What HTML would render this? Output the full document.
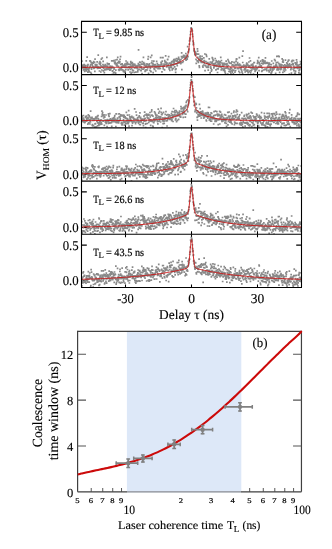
<!DOCTYPE html>
<html><head><meta charset="utf-8"><title>Figure</title>
<style>html,body{margin:0;padding:0;background:#fff;width:332px;height:549px;overflow:hidden;font-family:"Liberation Serif",serif}</style>
</head><body>
<svg width="332" height="549" viewBox="0 0 332 549" style="position:absolute;left:0;top:0;will-change:transform" text-rendering="geometricPrecision">
<rect width="332" height="549" fill="#fff"/>
<clipPath id="c0"><rect x="81.5" y="21.4" width="220.0" height="53.23"/></clipPath>
<path d="M81.5 32.2h5.3M301.5 32.2h-5.3" stroke="#000" stroke-width="1.05"/>
<path d="M81.5 67.8h5.3M301.5 67.8h-5.3" stroke="#000" stroke-width="1.05"/>
<path d="M125.5 21.4v3M125.5 74.63v-3" stroke="#000" stroke-width="1.05"/>
<path d="M191.5 21.4v3M191.5 74.63v-3" stroke="#000" stroke-width="1.05"/>
<path d="M257.5 21.4v3M257.5 74.63v-3" stroke="#000" stroke-width="1.05"/>
<path clip-path="url(#c0)" d="M80.8 67.8h1.7M81.0 61.1h1.7M81.2 66.5h1.7M81.5 66.9h1.7M81.7 65.5h1.7M81.9 66.2h1.7M82.2 65.1h1.7M82.4 65.1h1.7M82.6 70.0h1.7M82.8 66.3h1.7M83.1 69.2h1.7M83.3 64.6h1.7M83.5 64.8h1.7M83.8 71.3h1.7M84.0 69.4h1.7M84.2 65.7h1.7M84.5 66.4h1.7M84.7 69.7h1.7M84.9 65.5h1.7M85.2 68.8h1.7M85.4 60.8h1.7M85.6 70.8h1.7M85.9 68.8h1.7M86.1 69.2h1.7M86.3 57.2h1.7M86.6 66.8h1.7M86.8 65.3h1.7M87.0 72.1h1.7M87.2 64.7h1.7M87.5 69.1h1.7M87.7 70.3h1.7M87.9 68.8h1.7M88.2 71.0h1.7M88.4 68.4h1.7M88.6 71.8h1.7M88.9 67.6h1.7M89.1 60.9h1.7M89.3 66.4h1.7M89.6 61.2h1.7M89.8 64.7h1.7M90.0 72.5h1.7M90.3 62.3h1.7M90.5 73.9h1.7M90.7 69.1h1.7M91.0 67.5h1.7M91.2 63.2h1.7M91.4 64.9h1.7M91.6 67.4h1.7M91.9 66.4h1.7M92.1 62.8h1.7M92.3 63.2h1.7M92.6 66.8h1.7M92.8 61.7h1.7M93.0 68.5h1.7M93.3 67.4h1.7M93.5 67.9h1.7M93.7 62.4h1.7M94.0 71.4h1.7M94.2 59.2h1.7M94.4 64.7h1.7M94.7 65.9h1.7M94.9 66.8h1.7M95.1 66.8h1.7M95.4 67.4h1.7M95.6 66.3h1.7M95.8 65.3h1.7M96.0 64.7h1.7M96.3 61.9h1.7M96.5 62.0h1.7M96.7 68.4h1.7M97.0 66.7h1.7M97.2 67.5h1.7M97.4 55.2h1.7M97.7 68.2h1.7M97.9 67.7h1.7M98.1 67.1h1.7M98.4 63.3h1.7M98.6 71.0h1.7M98.8 63.8h1.7M99.1 61.6h1.7M99.3 68.1h1.7M99.5 64.7h1.7M99.8 63.0h1.7M100.0 72.0h1.7M100.2 66.2h1.7M100.5 59.2h1.7M100.7 66.4h1.7M100.9 70.0h1.7M101.1 75.2h1.7M101.4 58.0h1.7M101.6 67.5h1.7M101.8 66.5h1.7M102.1 64.5h1.7M102.3 61.3h1.7M102.5 70.9h1.7M102.8 66.4h1.7M103.0 68.3h1.7M103.2 65.7h1.7M103.5 72.7h1.7M103.7 66.1h1.7M103.9 70.0h1.7M104.2 69.7h1.7M104.4 64.7h1.7M104.6 66.0h1.7M104.8 65.2h1.7M105.1 66.2h1.7M105.3 68.7h1.7M105.5 68.7h1.7M105.8 69.6h1.7M106.0 57.4h1.7M106.2 66.0h1.7M106.5 63.4h1.7M106.7 68.4h1.7M106.9 66.2h1.7M107.2 64.2h1.7M107.4 69.2h1.7M107.6 68.3h1.7M107.9 64.1h1.7M108.1 68.7h1.7M108.3 63.8h1.7M108.6 69.0h1.7M108.8 70.1h1.7M109.0 68.0h1.7M109.2 66.2h1.7M109.5 69.0h1.7M109.7 69.8h1.7M109.9 68.0h1.7M110.2 66.5h1.7M110.4 68.5h1.7M110.6 67.9h1.7M110.9 60.8h1.7M111.1 66.4h1.7M111.3 74.7h1.7M111.6 71.1h1.7M111.8 67.0h1.7M112.0 70.8h1.7M112.3 67.7h1.7M112.5 60.8h1.7M112.7 72.8h1.7M113.0 60.5h1.7M113.2 69.2h1.7M113.4 68.2h1.7M113.7 62.7h1.7M113.9 72.3h1.7M114.1 63.7h1.7M114.3 62.2h1.7M114.6 60.0h1.7M114.8 73.1h1.7M115.0 70.2h1.7M115.3 64.4h1.7M115.5 64.9h1.7M115.7 63.6h1.7M116.0 65.8h1.7M116.2 59.6h1.7M116.4 65.2h1.7M116.7 62.5h1.7M116.9 57.4h1.7M117.1 62.8h1.7M117.4 62.6h1.7M117.6 66.3h1.7M117.8 69.6h1.7M118.0 61.3h1.7M118.3 70.3h1.7M118.5 62.8h1.7M118.7 69.1h1.7M119.0 61.8h1.7M119.2 59.3h1.7M119.4 68.8h1.7M119.7 56.6h1.7M119.9 64.3h1.7M120.1 69.8h1.7M120.4 64.3h1.7M120.6 68.1h1.7M120.8 66.7h1.7M121.1 64.0h1.7M121.3 63.9h1.7M121.5 66.7h1.7M121.8 69.8h1.7M122.0 67.2h1.7M122.2 65.7h1.7M122.5 71.3h1.7M122.7 75.1h1.7M122.9 65.5h1.7M123.1 70.6h1.7M123.4 65.1h1.7M123.6 72.3h1.7M123.8 67.1h1.7M124.1 64.1h1.7M124.3 71.7h1.7M124.5 67.5h1.7M124.8 65.7h1.7M125.0 69.6h1.7M125.2 61.0h1.7M125.5 63.4h1.7M125.7 67.4h1.7M125.9 64.2h1.7M126.2 64.7h1.7M126.4 63.6h1.7M126.6 62.4h1.7M126.8 67.6h1.7M127.1 64.3h1.7M127.3 69.8h1.7M127.5 64.1h1.7M127.8 67.2h1.7M128.0 66.8h1.7M128.2 66.9h1.7M128.5 67.7h1.7M128.7 64.4h1.7M128.9 66.8h1.7M129.2 72.0h1.7M129.4 69.3h1.7M129.6 64.8h1.7M129.9 61.6h1.7M130.1 63.0h1.7M130.3 73.3h1.7M130.6 66.1h1.7M130.8 68.6h1.7M131.0 63.6h1.7M131.2 72.4h1.7M131.5 62.6h1.7M131.7 70.2h1.7M131.9 65.0h1.7M132.2 66.4h1.7M132.4 64.5h1.7M132.6 70.7h1.7M132.9 64.1h1.7M133.1 65.1h1.7M133.3 72.5h1.7M133.6 67.5h1.7M133.8 67.9h1.7M134.0 64.3h1.7M134.3 65.5h1.7M134.5 67.4h1.7M134.7 76.5h1.7M135.0 72.2h1.7M135.2 66.1h1.7M135.4 67.7h1.7M135.7 67.9h1.7M135.9 66.9h1.7M136.1 66.7h1.7M136.3 65.7h1.7M136.6 68.7h1.7M136.8 71.8h1.7M137.0 70.7h1.7M137.3 65.9h1.7M137.5 63.7h1.7M137.7 49.8h1.7M138.0 65.1h1.7M138.2 69.4h1.7M138.4 65.9h1.7M138.7 65.6h1.7M138.9 62.2h1.7M139.1 64.9h1.7M139.4 67.3h1.7M139.6 62.6h1.7M139.8 70.4h1.7M140.1 67.5h1.7M140.3 70.6h1.7M140.5 66.5h1.7M140.7 68.5h1.7M141.0 64.1h1.7M141.2 73.5h1.7M141.4 61.7h1.7M141.7 69.2h1.7M141.9 69.2h1.7M142.1 64.2h1.7M142.4 69.1h1.7M142.6 57.3h1.7M142.8 62.7h1.7M143.1 64.2h1.7M143.3 67.8h1.7M143.5 65.4h1.7M143.8 63.5h1.7M144.0 64.8h1.7M144.2 71.3h1.7M144.5 70.0h1.7M144.7 67.1h1.7M144.9 70.6h1.7M145.1 66.9h1.7M145.4 65.6h1.7M145.6 69.9h1.7M145.8 66.1h1.7M146.1 63.9h1.7M146.3 67.1h1.7M146.5 70.0h1.7M146.8 67.9h1.7M147.0 64.6h1.7M147.2 59.2h1.7M147.5 56.7h1.7M147.7 73.3h1.7M147.9 66.1h1.7M148.2 65.2h1.7M148.4 66.4h1.7M148.6 63.9h1.7M148.8 66.6h1.7M149.1 70.3h1.7M149.3 66.2h1.7M149.5 68.2h1.7M149.8 57.4h1.7M150.0 71.4h1.7M150.2 71.7h1.7M150.5 66.5h1.7M150.7 62.9h1.7M150.9 55.3h1.7M151.2 61.0h1.7M151.4 65.4h1.7M151.6 66.6h1.7M151.9 66.5h1.7M152.1 63.3h1.7M152.3 72.7h1.7M152.6 64.9h1.7M152.8 65.2h1.7M153.0 61.1h1.7M153.2 68.5h1.7M153.5 69.3h1.7M153.7 65.9h1.7M153.9 69.0h1.7M154.2 67.0h1.7M154.4 64.6h1.7M154.6 65.0h1.7M154.9 71.0h1.7M155.1 67.1h1.7M155.3 66.8h1.7M155.6 66.6h1.7M155.8 61.4h1.7M156.0 67.6h1.7M156.3 66.0h1.7M156.5 63.6h1.7M156.7 66.5h1.7M157.0 65.6h1.7M157.2 68.7h1.7M157.4 64.9h1.7M157.7 66.1h1.7M157.9 65.3h1.7M158.1 67.2h1.7M158.3 68.3h1.7M158.6 68.6h1.7M158.8 66.2h1.7M159.0 65.0h1.7M159.3 68.4h1.7M159.5 68.5h1.7M159.7 57.6h1.7M160.0 65.4h1.7M160.2 62.4h1.7M160.4 63.9h1.7M160.7 63.2h1.7M160.9 64.2h1.7M161.1 71.9h1.7M161.4 61.2h1.7M161.6 57.7h1.7M161.8 66.0h1.7M162.1 57.7h1.7M162.3 67.6h1.7M162.5 68.8h1.7M162.7 65.7h1.7M163.0 65.5h1.7M163.2 64.0h1.7M163.4 66.2h1.7M163.7 69.8h1.7M163.9 60.5h1.7M164.1 61.8h1.7M164.4 64.4h1.7M164.6 64.4h1.7M164.8 55.8h1.7M165.1 62.1h1.7M165.3 64.3h1.7M165.5 63.1h1.7M165.8 66.8h1.7M166.0 66.9h1.7M166.2 63.0h1.7M166.5 65.8h1.7M166.7 59.7h1.7M166.9 59.3h1.7M167.1 65.1h1.7M167.4 64.4h1.7M167.6 65.4h1.7M167.8 56.6h1.7M168.1 67.4h1.7M168.3 68.8h1.7M168.5 63.2h1.7M168.8 63.1h1.7M169.0 70.4h1.7M169.2 67.3h1.7M169.5 66.8h1.7M169.7 64.5h1.7M169.9 66.1h1.7M170.2 63.1h1.7M170.4 67.6h1.7M170.6 65.6h1.7M170.8 61.7h1.7M171.1 64.7h1.7M171.3 70.0h1.7M171.5 64.3h1.7M171.8 68.6h1.7M172.0 61.8h1.7M172.2 61.2h1.7M172.5 68.4h1.7M172.7 65.3h1.7M172.9 59.6h1.7M173.2 63.1h1.7M173.4 61.3h1.7M173.6 60.3h1.7M173.9 66.8h1.7M174.1 59.4h1.7M174.3 63.8h1.7M174.6 69.7h1.7M174.8 72.4h1.7M175.0 60.5h1.7M175.2 68.9h1.7M175.5 61.5h1.7M175.7 58.5h1.7M175.9 63.8h1.7M176.2 60.3h1.7M176.4 65.7h1.7M176.6 61.2h1.7M176.9 63.2h1.7M177.1 61.9h1.7M177.3 59.1h1.7M177.6 62.5h1.7M177.8 57.4h1.7M178.0 59.0h1.7M178.3 61.8h1.7M178.5 62.8h1.7M178.7 59.6h1.7M179.0 60.2h1.7M179.2 61.0h1.7M179.4 62.5h1.7M179.7 62.5h1.7M179.9 63.7h1.7M180.1 59.5h1.7M180.3 62.7h1.7M180.6 56.6h1.7M180.8 52.8h1.7M181.0 69.6h1.7M181.3 57.9h1.7M181.5 57.2h1.7M181.7 62.3h1.7M182.0 57.0h1.7M182.2 56.7h1.7M182.4 61.3h1.7M182.7 55.3h1.7M182.9 56.7h1.7M183.1 57.4h1.7M183.4 56.7h1.7M183.6 55.6h1.7M183.8 56.0h1.7M184.1 57.8h1.7M184.3 56.5h1.7M184.5 59.2h1.7M184.7 57.7h1.7M185.0 53.5h1.7M185.2 60.2h1.7M185.4 56.5h1.7M185.7 59.3h1.7M185.9 55.4h1.7M186.1 58.1h1.7M186.4 59.2h1.7M186.6 55.6h1.7M186.8 46.7h1.7M187.1 56.6h1.7M187.3 51.9h1.7M187.5 52.4h1.7M187.8 51.4h1.7M188.0 49.8h1.7M188.2 49.2h1.7M188.5 44.1h1.7M188.7 40.8h1.7M188.9 40.4h1.7M189.1 38.1h1.7M189.4 38.7h1.7M189.6 34.5h1.7M189.8 31.7h1.7M190.1 28.7h1.7M190.3 27.9h1.7M190.5 28.5h1.7M190.8 28.5h1.7M191.0 29.4h1.7M191.2 30.2h1.7M191.5 31.0h1.7M191.7 34.1h1.7M191.9 36.3h1.7M192.2 41.2h1.7M192.4 44.6h1.7M192.6 42.8h1.7M192.8 44.3h1.7M193.1 50.6h1.7M193.3 48.8h1.7M193.5 51.3h1.7M193.8 51.4h1.7M194.0 54.7h1.7M194.2 53.1h1.7M194.5 51.9h1.7M194.7 53.0h1.7M194.9 55.2h1.7M195.2 59.4h1.7M195.4 63.3h1.7M195.6 53.5h1.7M195.9 54.2h1.7M196.1 54.2h1.7M196.3 60.8h1.7M196.6 48.9h1.7M196.8 51.2h1.7M197.0 57.4h1.7M197.2 61.1h1.7M197.5 62.5h1.7M197.7 54.1h1.7M197.9 59.0h1.7M198.2 60.3h1.7M198.4 65.9h1.7M198.6 67.3h1.7M198.9 59.5h1.7M199.1 56.9h1.7M199.3 56.0h1.7M199.6 58.6h1.7M199.8 61.4h1.7M200.0 60.2h1.7M200.3 60.5h1.7M200.5 62.3h1.7M200.7 58.8h1.7M201.0 59.5h1.7M201.2 56.3h1.7M201.4 58.8h1.7M201.7 62.4h1.7M201.9 66.1h1.7M202.1 67.1h1.7M202.3 61.8h1.7M202.6 61.3h1.7M202.8 65.0h1.7M203.0 57.9h1.7M203.3 62.4h1.7M203.5 60.7h1.7M203.7 63.1h1.7M204.0 54.0h1.7M204.2 70.6h1.7M204.4 65.3h1.7M204.7 66.0h1.7M204.9 65.5h1.7M205.1 61.5h1.7M205.4 54.6h1.7M205.6 67.1h1.7M205.8 56.3h1.7M206.1 63.0h1.7M206.3 63.5h1.7M206.5 67.3h1.7M206.7 63.4h1.7M207.0 62.6h1.7M207.2 66.0h1.7M207.4 70.2h1.7M207.7 67.4h1.7M207.9 65.1h1.7M208.1 64.4h1.7M208.4 58.9h1.7M208.6 63.6h1.7M208.8 64.5h1.7M209.1 64.5h1.7M209.3 72.8h1.7M209.5 62.0h1.7M209.8 66.5h1.7M210.0 68.1h1.7M210.2 68.5h1.7M210.5 71.2h1.7M210.7 63.3h1.7M210.9 69.9h1.7M211.1 62.5h1.7M211.4 57.7h1.7M211.6 61.8h1.7M211.8 58.4h1.7M212.1 59.8h1.7M212.3 63.9h1.7M212.5 64.8h1.7M212.8 60.3h1.7M213.0 67.9h1.7M213.2 66.9h1.7M213.5 64.1h1.7M213.7 66.0h1.7M213.9 63.6h1.7M214.2 65.8h1.7M214.4 58.5h1.7M214.6 63.8h1.7M214.8 63.0h1.7M215.1 69.8h1.7M215.3 60.5h1.7M215.5 62.0h1.7M215.8 66.1h1.7M216.0 65.2h1.7M216.2 66.3h1.7M216.5 68.9h1.7M216.7 72.5h1.7M216.9 61.9h1.7M217.2 63.7h1.7M217.4 68.8h1.7M217.6 61.1h1.7M217.9 64.7h1.7M218.1 66.9h1.7M218.3 63.4h1.7M218.6 65.8h1.7M218.8 61.7h1.7M219.0 65.7h1.7M219.2 64.2h1.7M219.5 62.1h1.7M219.7 66.5h1.7M219.9 57.4h1.7M220.2 67.3h1.7M220.4 69.9h1.7M220.6 60.5h1.7M220.9 63.0h1.7M221.1 68.3h1.7M221.3 68.5h1.7M221.6 64.9h1.7M221.8 66.1h1.7M222.0 63.4h1.7M222.3 69.6h1.7M222.5 66.2h1.7M222.7 70.4h1.7M223.0 65.1h1.7M223.2 68.2h1.7M223.4 68.8h1.7M223.7 63.3h1.7M223.9 70.6h1.7M224.1 71.9h1.7M224.3 64.0h1.7M224.6 73.5h1.7M224.8 64.5h1.7M225.0 68.1h1.7M225.3 61.1h1.7M225.5 64.8h1.7M225.7 64.1h1.7M226.0 64.7h1.7M226.2 63.7h1.7M226.4 66.6h1.7M226.7 68.0h1.7M226.9 74.0h1.7M227.1 59.6h1.7M227.4 68.6h1.7M227.6 65.5h1.7M227.8 61.4h1.7M228.1 71.5h1.7M228.3 62.7h1.7M228.5 69.1h1.7M228.7 69.4h1.7M229.0 71.3h1.7M229.2 63.2h1.7M229.4 71.8h1.7M229.7 69.2h1.7M229.9 67.8h1.7M230.1 73.7h1.7M230.4 63.3h1.7M230.6 70.8h1.7M230.8 68.5h1.7M231.1 61.9h1.7M231.3 65.4h1.7M231.5 72.1h1.7M231.8 70.1h1.7M232.0 64.8h1.7M232.2 70.3h1.7M232.5 73.9h1.7M232.7 66.0h1.7M232.9 70.1h1.7M233.1 62.3h1.7M233.4 65.6h1.7M233.6 62.6h1.7M233.8 68.2h1.7M234.1 72.1h1.7M234.3 68.1h1.7M234.5 64.6h1.7M234.8 70.5h1.7M235.0 65.3h1.7M235.2 61.4h1.7M235.5 59.3h1.7M235.7 58.9h1.7M235.9 59.2h1.7M236.2 64.9h1.7M236.4 68.4h1.7M236.6 64.4h1.7M236.8 62.6h1.7M237.1 68.3h1.7M237.3 68.6h1.7M237.5 65.2h1.7M237.8 64.9h1.7M238.0 71.4h1.7M238.2 65.3h1.7M238.5 57.6h1.7M238.7 64.0h1.7M238.9 72.7h1.7M239.2 68.5h1.7M239.4 67.3h1.7M239.6 65.1h1.7M239.9 69.0h1.7M240.1 67.6h1.7M240.3 67.3h1.7M240.6 69.6h1.7M240.8 70.5h1.7M241.0 66.3h1.7M241.2 72.1h1.7M241.5 56.2h1.7M241.7 73.6h1.7M241.9 62.5h1.7M242.2 51.1h1.7M242.4 66.1h1.7M242.6 66.8h1.7M242.9 65.1h1.7M243.1 66.2h1.7M243.3 70.0h1.7M243.6 66.2h1.7M243.8 68.9h1.7M244.0 65.7h1.7M244.3 72.0h1.7M244.5 65.5h1.7M244.7 68.8h1.7M245.0 67.0h1.7M245.2 70.6h1.7M245.4 67.0h1.7M245.7 64.2h1.7M245.9 63.1h1.7M246.1 65.4h1.7M246.3 71.2h1.7M246.6 64.2h1.7M246.8 70.2h1.7M247.0 70.3h1.7M247.3 72.7h1.7M247.5 65.4h1.7M247.7 67.2h1.7M248.0 62.0h1.7M248.2 65.9h1.7M248.4 71.7h1.7M248.7 58.0h1.7M248.9 66.1h1.7M249.1 67.4h1.7M249.4 70.6h1.7M249.6 60.8h1.7M249.8 72.9h1.7M250.1 67.8h1.7M250.3 70.8h1.7M250.5 64.7h1.7M250.7 65.1h1.7M251.0 70.0h1.7M251.2 76.5h1.7M251.4 67.2h1.7M251.7 68.3h1.7M251.9 64.1h1.7M252.1 65.4h1.7M252.4 68.1h1.7M252.6 74.0h1.7M252.8 66.5h1.7M253.1 62.5h1.7M253.3 69.1h1.7M253.5 62.7h1.7M253.8 69.5h1.7M254.0 68.4h1.7M254.2 71.4h1.7M254.5 68.8h1.7M254.7 70.3h1.7M254.9 66.4h1.7M255.1 66.0h1.7M255.4 68.8h1.7M255.6 69.7h1.7M255.8 69.4h1.7M256.1 67.9h1.7M256.3 68.4h1.7M256.5 63.4h1.7M256.8 60.6h1.7M257.0 62.1h1.7M257.2 62.4h1.7M257.5 67.4h1.7M257.7 66.7h1.7M257.9 57.6h1.7M258.2 70.7h1.7M258.4 62.7h1.7M258.6 63.8h1.7M258.8 66.5h1.7M259.1 66.8h1.7M259.3 65.4h1.7M259.5 67.2h1.7M259.8 61.2h1.7M260.0 66.2h1.7M260.2 66.4h1.7M260.5 65.8h1.7M260.7 63.3h1.7M260.9 71.4h1.7M261.2 67.9h1.7M261.4 70.7h1.7M261.6 59.8h1.7M261.9 61.7h1.7M262.1 63.8h1.7M262.3 61.5h1.7M262.6 60.4h1.7M262.8 70.0h1.7M263.0 63.4h1.7M263.2 63.0h1.7M263.5 61.8h1.7M263.7 69.4h1.7M263.9 69.6h1.7M264.2 61.0h1.7M264.4 69.0h1.7M264.6 57.9h1.7M264.9 63.3h1.7M265.1 69.3h1.7M265.3 62.6h1.7M265.6 69.3h1.7M265.8 68.7h1.7M266.0 70.7h1.7M266.3 63.1h1.7M266.5 62.6h1.7M266.7 67.2h1.7M267.0 63.1h1.7M267.2 66.1h1.7M267.4 67.5h1.7M267.6 63.8h1.7M267.9 70.3h1.7M268.1 65.0h1.7M268.3 71.9h1.7M268.6 63.0h1.7M268.8 64.6h1.7M269.0 66.9h1.7M269.3 75.1h1.7M269.5 68.6h1.7M269.7 70.4h1.7M270.0 66.8h1.7M270.2 73.2h1.7M270.4 64.7h1.7M270.7 72.6h1.7M270.9 61.0h1.7M271.1 71.3h1.7M271.4 68.8h1.7M271.6 68.1h1.7M271.8 67.9h1.7M272.0 70.1h1.7M272.3 68.6h1.7M272.5 63.4h1.7M272.7 66.9h1.7M273.0 66.4h1.7M273.2 68.9h1.7M273.4 67.5h1.7M273.7 59.7h1.7M273.9 67.3h1.7M274.1 67.3h1.7M274.4 60.7h1.7M274.6 66.2h1.7M274.8 73.4h1.7M275.1 64.6h1.7M275.3 66.3h1.7M275.5 62.6h1.7M275.8 65.4h1.7M276.0 56.4h1.7M276.2 69.8h1.7M276.4 68.9h1.7M276.7 67.1h1.7M276.9 62.3h1.7M277.1 68.6h1.7M277.4 70.0h1.7M277.6 56.1h1.7M277.8 69.1h1.7M278.1 63.6h1.7M278.3 56.7h1.7M278.5 65.6h1.7M278.8 72.3h1.7M279.0 65.0h1.7M279.2 66.2h1.7M279.5 68.2h1.7M279.7 69.6h1.7M279.9 64.4h1.7M280.2 64.9h1.7M280.4 69.0h1.7M280.6 66.6h1.7M280.8 67.1h1.7M281.1 67.4h1.7M281.3 58.9h1.7M281.5 65.0h1.7M281.8 61.9h1.7M282.0 72.4h1.7M282.2 60.2h1.7M282.5 62.2h1.7M282.7 70.0h1.7M282.9 65.9h1.7M283.2 68.2h1.7M283.4 67.1h1.7M283.6 71.3h1.7M283.9 64.9h1.7M284.1 68.9h1.7M284.3 67.8h1.7M284.6 60.1h1.7M284.8 70.0h1.7M285.0 66.7h1.7M285.2 65.7h1.7M285.5 67.0h1.7M285.7 65.9h1.7M285.9 62.9h1.7M286.2 65.9h1.7M286.4 63.6h1.7M286.6 65.4h1.7M286.9 67.6h1.7M287.1 61.5h1.7M287.3 64.8h1.7M287.6 60.4h1.7M287.8 66.2h1.7M288.0 60.1h1.7M288.3 66.8h1.7M288.5 74.1h1.7M288.7 63.8h1.7M289.0 65.4h1.7M289.2 65.2h1.7M289.4 66.4h1.7M289.6 65.5h1.7M289.9 69.7h1.7M290.1 66.8h1.7M290.3 68.6h1.7M290.6 73.2h1.7M290.8 61.6h1.7M291.0 64.6h1.7M291.3 60.8h1.7M291.5 64.7h1.7M291.7 60.4h1.7M292.0 63.5h1.7M292.2 69.0h1.7M292.4 64.2h1.7M292.7 60.7h1.7M292.9 66.0h1.7M293.1 70.7h1.7M293.4 67.4h1.7M293.6 68.3h1.7M293.8 73.3h1.7M294.0 67.7h1.7M294.3 62.9h1.7M294.5 73.2h1.7M294.7 71.2h1.7M295.0 64.3h1.7M295.2 67.4h1.7M295.4 64.7h1.7M295.7 59.8h1.7M295.9 63.7h1.7M296.1 62.1h1.7M296.4 66.3h1.7M296.6 67.4h1.7M296.8 68.5h1.7M297.1 65.1h1.7M297.3 66.4h1.7M297.5 67.2h1.7M297.8 65.1h1.7M298.0 72.8h1.7M298.2 70.7h1.7M298.4 66.9h1.7M298.7 69.0h1.7M298.9 69.7h1.7M299.1 64.5h1.7M299.4 73.6h1.7M299.6 61.7h1.7M299.8 66.7h1.7M300.1 63.7h1.7M300.3 64.2h1.7M300.5 74.3h1.7" stroke="#898989" stroke-width="1.7" fill="none"/>
<polyline clip-path="url(#c0)" points="81.50,67.30 82.60,67.30 83.70,67.30 84.80,67.30 85.90,67.30 87.00,67.30 88.10,67.30 89.20,67.30 90.30,67.30 91.40,67.30 92.50,67.30 93.60,67.30 94.70,67.30 95.80,67.30 96.90,67.30 98.00,67.30 99.10,67.30 100.20,67.30 101.30,67.30 102.40,67.30 103.50,67.30 104.60,67.30 105.70,67.30 106.80,67.30 107.90,67.30 109.00,67.30 110.10,67.30 111.20,67.29 112.30,67.29 113.40,67.29 114.50,67.29 115.60,67.29 116.70,67.29 117.80,67.29 118.90,67.29 120.00,67.29 121.10,67.28 122.20,67.28 123.30,67.28 124.40,67.28 125.50,67.27 126.60,67.27 127.70,67.27 128.80,67.26 129.90,67.26 131.00,67.26 132.10,67.25 133.20,67.24 134.30,67.24 135.40,67.23 136.50,67.22 137.60,67.21 138.70,67.20 139.80,67.19 140.90,67.18 142.00,67.17 143.10,67.15 144.20,67.14 145.30,67.12 146.40,67.10 147.50,67.07 148.60,67.05 149.70,67.02 150.80,66.99 151.90,66.95 153.00,66.91 154.10,66.87 155.20,66.82 156.30,66.77 157.40,66.71 158.50,66.64 159.60,66.57 160.70,66.49 161.80,66.40 162.90,66.29 164.00,66.18 165.10,66.05 166.20,65.91 167.30,65.76 168.40,65.59 169.50,65.39 170.60,65.18 171.70,64.94 172.80,64.68 173.90,64.38 175.00,64.05 176.10,63.69 177.20,63.28 178.30,62.83 179.40,62.33 180.50,61.77 181.60,61.15 182.70,60.46 183.80,59.69 184.90,58.84 186.00,57.83 186.11,57.72 186.22,57.60 186.33,57.47 186.44,57.34 186.55,57.20 186.66,57.05 186.77,56.90 186.88,56.73 186.99,56.54 187.10,56.35 187.21,56.13 187.32,55.90 187.43,55.64 187.54,55.37 187.65,55.06 187.76,54.72 187.87,54.35 187.98,53.95 188.09,53.51 188.20,53.03 188.31,52.50 188.42,51.92 188.53,51.30 188.64,50.63 188.75,49.91 188.86,49.14 188.97,48.32 189.08,47.44 189.19,46.52 189.30,45.56 189.41,44.55 189.52,43.51 189.63,42.44 189.74,41.35 189.85,40.24 189.96,39.12 190.07,38.00 190.18,36.90 190.29,35.82 190.40,34.77 190.51,33.77 190.62,32.82 190.73,31.93 190.84,31.12 190.95,30.39 191.06,29.75 191.17,29.21 191.28,28.77 191.39,28.44 191.50,28.21 191.61,28.44 191.72,28.77 191.83,29.21 191.94,29.75 192.05,30.39 192.16,31.12 192.27,31.93 192.38,32.82 192.49,33.77 192.60,34.77 192.71,35.82 192.82,36.90 192.93,38.00 193.04,39.12 193.15,40.24 193.26,41.35 193.37,42.44 193.48,43.51 193.59,44.55 193.70,45.56 193.81,46.52 193.92,47.44 194.03,48.32 194.14,49.14 194.25,49.91 194.36,50.63 194.47,51.30 194.58,51.92 194.69,52.50 194.80,53.03 194.91,53.51 195.02,53.95 195.13,54.35 195.24,54.72 195.35,55.06 195.46,55.37 195.57,55.64 195.68,55.90 195.79,56.13 195.90,56.35 196.01,56.54 196.12,56.73 196.23,56.90 196.34,57.05 196.45,57.20 196.56,57.34 196.67,57.47 196.78,57.60 196.89,57.72 197.00,57.83 197.11,57.95 197.22,58.05 197.33,58.16 197.44,58.26 197.55,58.36 197.66,58.46 197.77,58.56 197.88,58.65 197.99,58.74 198.10,58.84 199.20,59.69 200.30,60.46 201.40,61.15 202.50,61.77 203.60,62.33 204.70,62.83 205.80,63.28 206.90,63.69 208.00,64.05 209.10,64.38 210.20,64.68 211.30,64.94 212.40,65.18 213.50,65.39 214.60,65.59 215.70,65.76 216.80,65.91 217.90,66.05 219.00,66.18 220.10,66.29 221.20,66.40 222.30,66.49 223.40,66.57 224.50,66.64 225.60,66.71 226.70,66.77 227.80,66.82 228.90,66.87 230.00,66.91 231.10,66.95 232.20,66.99 233.30,67.02 234.40,67.05 235.50,67.07 236.60,67.10 237.70,67.12 238.80,67.14 239.90,67.15 241.00,67.17 242.10,67.18 243.20,67.19 244.30,67.20 245.40,67.21 246.50,67.22 247.60,67.23 248.70,67.24 249.80,67.24 250.90,67.25 252.00,67.26 253.10,67.26 254.20,67.26 255.30,67.27 256.40,67.27 257.50,67.27 258.60,67.28 259.70,67.28 260.80,67.28 261.90,67.28 263.00,67.29 264.10,67.29 265.20,67.29 266.30,67.29 267.40,67.29 268.50,67.29 269.60,67.29 270.70,67.29 271.80,67.29 272.90,67.30 274.00,67.30 275.10,67.30 276.20,67.30 277.30,67.30 278.40,67.30 279.50,67.30 280.60,67.30 281.70,67.30 282.80,67.30 283.90,67.30 285.00,67.30 286.10,67.30 287.20,67.30 288.30,67.30 289.40,67.30 290.50,67.30 291.60,67.30 292.70,67.30 293.80,67.30 294.90,67.30 296.00,67.30 297.10,67.30 298.20,67.30 299.30,67.30 300.40,67.30 301.50,67.30" stroke="#cc1414" stroke-width="0.95" fill="none" stroke-linejoin="round"/>
<text x="78.7" y="36.80" font-family="Liberation Serif, serif" stroke="#000" stroke-width="0.12" font-size="13.5" text-anchor="end" textLength="16" lengthAdjust="spacingAndGlyphs">0.5</text>
<text x="78.7" y="72.20" font-family="Liberation Serif, serif" stroke="#000" stroke-width="0.12" font-size="13.5" text-anchor="end" textLength="16" lengthAdjust="spacingAndGlyphs">0.0</text>
<text x="93.3" y="36.30" font-family="Liberation Serif, serif" font-size="11" stroke="#000" stroke-width="0.2" textLength="5.6" lengthAdjust="spacingAndGlyphs">T</text>
<text x="98.5" y="38.70" font-family="Liberation Serif, serif" font-size="8.8" stroke="#000" stroke-width="0.15">L</text>
<text x="106" y="36.30" font-family="Liberation Serif, serif" font-size="11" stroke="#000" stroke-width="0.2" textLength="38.0" lengthAdjust="spacingAndGlyphs">= 9.85 ns</text>
<clipPath id="c1"><rect x="81.5" y="74.63" width="220.0" height="53.22999999999999"/></clipPath>
<path d="M81.5 85.42999999999999h5.3M301.5 85.42999999999999h-5.3" stroke="#000" stroke-width="1.05"/>
<path d="M81.5 121.03h5.3M301.5 121.03h-5.3" stroke="#000" stroke-width="1.05"/>
<path d="M125.5 74.63v3M125.5 127.85999999999999v-3" stroke="#000" stroke-width="1.05"/>
<path d="M191.5 74.63v3M191.5 127.85999999999999v-3" stroke="#000" stroke-width="1.05"/>
<path d="M257.5 74.63v3M257.5 127.85999999999999v-3" stroke="#000" stroke-width="1.05"/>
<path clip-path="url(#c1)" d="M80.8 116.0h1.7M81.0 118.7h1.7M81.2 120.1h1.7M81.5 116.4h1.7M81.7 121.4h1.7M81.9 120.4h1.7M82.2 118.2h1.7M82.4 119.8h1.7M82.6 115.5h1.7M82.8 122.0h1.7M83.1 119.4h1.7M83.3 120.7h1.7M83.5 121.3h1.7M83.8 122.7h1.7M84.0 122.1h1.7M84.2 122.0h1.7M84.5 117.3h1.7M84.7 121.0h1.7M84.9 116.6h1.7M85.2 116.8h1.7M85.4 120.6h1.7M85.6 116.1h1.7M85.9 118.8h1.7M86.1 118.8h1.7M86.3 120.7h1.7M86.6 117.5h1.7M86.8 117.5h1.7M87.0 124.2h1.7M87.2 118.4h1.7M87.5 114.8h1.7M87.7 123.1h1.7M87.9 122.7h1.7M88.2 119.3h1.7M88.4 115.9h1.7M88.6 116.8h1.7M88.9 119.9h1.7M89.1 124.0h1.7M89.3 121.5h1.7M89.6 121.8h1.7M89.8 111.1h1.7M90.0 119.4h1.7M90.3 117.6h1.7M90.5 118.1h1.7M90.7 118.5h1.7M91.0 118.3h1.7M91.2 117.4h1.7M91.4 125.3h1.7M91.6 124.7h1.7M91.9 120.5h1.7M92.1 126.0h1.7M92.3 118.9h1.7M92.6 125.6h1.7M92.8 119.9h1.7M93.0 120.3h1.7M93.3 129.2h1.7M93.5 120.0h1.7M93.7 118.6h1.7M94.0 127.2h1.7M94.2 123.9h1.7M94.4 118.9h1.7M94.7 123.6h1.7M94.9 117.2h1.7M95.1 118.5h1.7M95.4 126.8h1.7M95.6 118.9h1.7M95.8 117.3h1.7M96.0 121.4h1.7M96.3 120.8h1.7M96.5 116.3h1.7M96.7 125.8h1.7M97.0 122.9h1.7M97.2 115.7h1.7M97.4 118.7h1.7M97.7 119.4h1.7M97.9 124.5h1.7M98.1 125.5h1.7M98.4 120.7h1.7M98.6 122.8h1.7M98.8 122.0h1.7M99.1 121.7h1.7M99.3 120.4h1.7M99.5 124.4h1.7M99.8 121.8h1.7M100.0 123.9h1.7M100.2 119.8h1.7M100.5 122.5h1.7M100.7 116.5h1.7M100.9 124.2h1.7M101.1 111.1h1.7M101.4 114.3h1.7M101.6 115.3h1.7M101.8 112.7h1.7M102.1 120.6h1.7M102.3 121.2h1.7M102.5 116.0h1.7M102.8 118.0h1.7M103.0 115.5h1.7M103.2 114.8h1.7M103.5 125.4h1.7M103.7 116.8h1.7M103.9 117.1h1.7M104.2 120.0h1.7M104.4 121.3h1.7M104.6 122.1h1.7M104.8 120.6h1.7M105.1 115.0h1.7M105.3 123.4h1.7M105.5 121.7h1.7M105.8 120.0h1.7M106.0 121.8h1.7M106.2 126.7h1.7M106.5 121.0h1.7M106.7 119.6h1.7M106.9 119.9h1.7M107.2 120.8h1.7M107.4 123.3h1.7M107.6 113.8h1.7M107.9 115.6h1.7M108.1 122.1h1.7M108.3 116.5h1.7M108.6 123.1h1.7M108.8 119.8h1.7M109.0 113.7h1.7M109.2 123.0h1.7M109.5 118.9h1.7M109.7 122.9h1.7M109.9 128.8h1.7M110.2 119.8h1.7M110.4 120.6h1.7M110.6 122.6h1.7M110.9 126.4h1.7M111.1 119.5h1.7M111.3 121.5h1.7M111.6 118.3h1.7M111.8 121.7h1.7M112.0 120.7h1.7M112.3 121.2h1.7M112.5 119.3h1.7M112.7 121.7h1.7M113.0 117.9h1.7M113.2 120.0h1.7M113.4 119.1h1.7M113.7 117.0h1.7M113.9 115.5h1.7M114.1 119.1h1.7M114.3 121.7h1.7M114.6 119.4h1.7M114.8 122.0h1.7M115.0 126.5h1.7M115.3 113.8h1.7M115.5 122.6h1.7M115.7 120.2h1.7M116.0 120.8h1.7M116.2 122.7h1.7M116.4 121.9h1.7M116.7 118.1h1.7M116.9 118.8h1.7M117.1 121.4h1.7M117.4 120.9h1.7M117.6 114.0h1.7M117.8 122.9h1.7M118.0 121.3h1.7M118.3 117.0h1.7M118.5 113.8h1.7M118.7 116.5h1.7M119.0 117.2h1.7M119.2 120.4h1.7M119.4 118.8h1.7M119.7 116.1h1.7M119.9 116.0h1.7M120.1 114.9h1.7M120.4 123.4h1.7M120.6 115.6h1.7M120.8 122.3h1.7M121.1 124.8h1.7M121.3 123.0h1.7M121.5 124.7h1.7M121.8 123.1h1.7M122.0 116.0h1.7M122.2 115.1h1.7M122.5 120.6h1.7M122.7 119.5h1.7M122.9 117.2h1.7M123.1 121.9h1.7M123.4 115.3h1.7M123.6 125.2h1.7M123.8 122.5h1.7M124.1 117.7h1.7M124.3 116.9h1.7M124.5 121.8h1.7M124.8 123.8h1.7M125.0 118.3h1.7M125.2 118.1h1.7M125.5 112.4h1.7M125.7 121.2h1.7M125.9 123.4h1.7M126.2 120.3h1.7M126.4 118.5h1.7M126.6 115.1h1.7M126.8 122.3h1.7M127.1 119.4h1.7M127.3 121.2h1.7M127.5 123.6h1.7M127.8 110.6h1.7M128.0 121.9h1.7M128.2 126.2h1.7M128.5 115.0h1.7M128.7 121.0h1.7M128.9 116.9h1.7M129.2 118.8h1.7M129.4 120.7h1.7M129.6 118.2h1.7M129.9 119.8h1.7M130.1 117.4h1.7M130.3 117.0h1.7M130.6 121.3h1.7M130.8 117.1h1.7M131.0 116.4h1.7M131.2 125.7h1.7M131.5 121.8h1.7M131.7 123.2h1.7M131.9 122.3h1.7M132.2 117.8h1.7M132.4 118.0h1.7M132.6 117.3h1.7M132.9 118.9h1.7M133.1 121.6h1.7M133.3 119.4h1.7M133.6 119.4h1.7M133.8 108.9h1.7M134.0 119.2h1.7M134.3 122.0h1.7M134.5 129.7h1.7M134.7 123.7h1.7M135.0 119.7h1.7M135.2 112.0h1.7M135.4 119.5h1.7M135.7 115.2h1.7M135.9 122.0h1.7M136.1 119.4h1.7M136.3 119.3h1.7M136.6 120.6h1.7M136.8 117.7h1.7M137.0 118.0h1.7M137.3 120.9h1.7M137.5 120.1h1.7M137.7 123.1h1.7M138.0 121.4h1.7M138.2 116.8h1.7M138.4 115.9h1.7M138.7 124.5h1.7M138.9 121.9h1.7M139.1 112.8h1.7M139.4 124.7h1.7M139.6 118.2h1.7M139.8 117.4h1.7M140.1 120.7h1.7M140.3 121.8h1.7M140.5 119.0h1.7M140.7 119.3h1.7M141.0 119.9h1.7M141.2 120.1h1.7M141.4 119.0h1.7M141.7 123.5h1.7M141.9 123.5h1.7M142.1 120.2h1.7M142.4 123.2h1.7M142.6 125.6h1.7M142.8 120.9h1.7M143.1 116.1h1.7M143.3 119.3h1.7M143.5 118.4h1.7M143.8 112.1h1.7M144.0 121.2h1.7M144.2 115.0h1.7M144.5 118.3h1.7M144.7 124.1h1.7M144.9 127.7h1.7M145.1 123.5h1.7M145.4 120.7h1.7M145.6 114.2h1.7M145.8 114.8h1.7M146.1 115.2h1.7M146.3 117.0h1.7M146.5 123.5h1.7M146.8 117.5h1.7M147.0 118.0h1.7M147.2 118.2h1.7M147.5 114.3h1.7M147.7 115.1h1.7M147.9 122.3h1.7M148.2 120.2h1.7M148.4 119.0h1.7M148.6 115.0h1.7M148.8 120.9h1.7M149.1 112.5h1.7M149.3 117.0h1.7M149.5 120.9h1.7M149.8 125.4h1.7M150.0 119.9h1.7M150.2 121.2h1.7M150.5 115.3h1.7M150.7 111.6h1.7M150.9 109.9h1.7M151.2 115.1h1.7M151.4 121.5h1.7M151.6 120.9h1.7M151.9 126.1h1.7M152.1 116.1h1.7M152.3 126.8h1.7M152.6 122.5h1.7M152.8 119.5h1.7M153.0 122.7h1.7M153.2 118.6h1.7M153.5 121.0h1.7M153.7 111.8h1.7M153.9 120.7h1.7M154.2 120.3h1.7M154.4 113.2h1.7M154.6 114.0h1.7M154.9 117.9h1.7M155.1 115.7h1.7M155.3 118.7h1.7M155.6 118.8h1.7M155.8 117.4h1.7M156.0 115.1h1.7M156.3 120.7h1.7M156.5 117.8h1.7M156.7 121.6h1.7M157.0 123.8h1.7M157.2 117.4h1.7M157.4 109.2h1.7M157.7 116.4h1.7M157.9 113.1h1.7M158.1 121.1h1.7M158.3 118.7h1.7M158.6 111.4h1.7M158.8 120.2h1.7M159.0 116.8h1.7M159.3 116.9h1.7M159.5 118.3h1.7M159.7 122.0h1.7M160.0 117.1h1.7M160.2 108.3h1.7M160.4 112.3h1.7M160.7 114.6h1.7M160.9 119.4h1.7M161.1 114.6h1.7M161.4 127.5h1.7M161.6 113.5h1.7M161.8 120.9h1.7M162.1 117.9h1.7M162.3 123.6h1.7M162.5 119.8h1.7M162.7 112.3h1.7M163.0 119.8h1.7M163.2 121.3h1.7M163.4 123.5h1.7M163.7 118.7h1.7M163.9 119.5h1.7M164.1 117.7h1.7M164.4 114.3h1.7M164.6 118.6h1.7M164.8 118.0h1.7M165.1 111.7h1.7M165.3 121.0h1.7M165.5 120.9h1.7M165.8 118.2h1.7M166.0 115.2h1.7M166.2 126.0h1.7M166.5 120.7h1.7M166.7 119.2h1.7M166.9 118.7h1.7M167.1 114.5h1.7M167.4 118.1h1.7M167.6 116.9h1.7M167.8 118.7h1.7M168.1 114.9h1.7M168.3 116.2h1.7M168.5 115.2h1.7M168.8 119.5h1.7M169.0 116.1h1.7M169.2 118.9h1.7M169.5 119.3h1.7M169.7 118.5h1.7M169.9 118.2h1.7M170.2 118.3h1.7M170.4 115.6h1.7M170.6 113.5h1.7M170.8 120.7h1.7M171.1 119.8h1.7M171.3 111.7h1.7M171.5 114.8h1.7M171.8 117.8h1.7M172.0 116.2h1.7M172.2 121.5h1.7M172.5 116.5h1.7M172.7 108.5h1.7M172.9 115.8h1.7M173.2 111.8h1.7M173.4 114.7h1.7M173.6 114.6h1.7M173.9 115.1h1.7M174.1 110.6h1.7M174.3 112.6h1.7M174.6 119.8h1.7M174.8 118.3h1.7M175.0 118.7h1.7M175.2 110.6h1.7M175.5 115.1h1.7M175.7 121.7h1.7M175.9 111.6h1.7M176.2 116.0h1.7M176.4 112.7h1.7M176.6 120.4h1.7M176.9 114.3h1.7M177.1 112.5h1.7M177.3 115.1h1.7M177.6 112.5h1.7M177.8 119.3h1.7M178.0 114.7h1.7M178.3 115.9h1.7M178.5 112.9h1.7M178.7 111.2h1.7M179.0 113.7h1.7M179.2 116.7h1.7M179.4 116.1h1.7M179.7 116.3h1.7M179.9 117.1h1.7M180.1 106.7h1.7M180.3 108.8h1.7M180.6 111.3h1.7M180.8 108.9h1.7M181.0 111.4h1.7M181.3 108.2h1.7M181.5 114.5h1.7M181.7 112.9h1.7M182.0 108.7h1.7M182.2 112.1h1.7M182.4 117.3h1.7M182.7 111.1h1.7M182.9 107.4h1.7M183.1 109.8h1.7M183.4 113.6h1.7M183.6 112.0h1.7M183.8 108.1h1.7M184.1 108.2h1.7M184.3 106.3h1.7M184.5 117.2h1.7M184.7 114.0h1.7M185.0 114.2h1.7M185.2 105.3h1.7M185.4 102.3h1.7M185.7 109.5h1.7M185.9 101.0h1.7M186.1 110.0h1.7M186.4 106.7h1.7M186.6 106.8h1.7M186.8 111.7h1.7M187.1 99.9h1.7M187.3 104.8h1.7M187.5 104.7h1.7M187.8 103.5h1.7M188.0 102.2h1.7M188.2 100.6h1.7M188.5 97.7h1.7M188.7 97.1h1.7M188.9 90.5h1.7M189.1 90.0h1.7M189.4 87.5h1.7M189.6 85.0h1.7M189.8 82.5h1.7M190.1 84.0h1.7M190.3 80.1h1.7M190.5 79.9h1.7M190.8 76.8h1.7M191.0 81.7h1.7M191.2 81.9h1.7M191.5 82.7h1.7M191.7 86.0h1.7M191.9 88.9h1.7M192.2 90.9h1.7M192.4 95.4h1.7M192.6 96.3h1.7M192.8 96.2h1.7M193.1 101.7h1.7M193.3 105.4h1.7M193.5 101.3h1.7M193.8 105.4h1.7M194.0 97.1h1.7M194.2 111.7h1.7M194.5 110.1h1.7M194.7 110.2h1.7M194.9 103.4h1.7M195.2 104.4h1.7M195.4 104.1h1.7M195.6 107.9h1.7M195.9 112.8h1.7M196.1 110.8h1.7M196.3 117.3h1.7M196.6 120.1h1.7M196.8 117.0h1.7M197.0 111.0h1.7M197.2 114.5h1.7M197.5 116.1h1.7M197.7 112.2h1.7M197.9 114.6h1.7M198.2 115.0h1.7M198.4 112.6h1.7M198.6 104.3h1.7M198.9 116.2h1.7M199.1 112.9h1.7M199.3 108.6h1.7M199.6 114.6h1.7M199.8 111.8h1.7M200.0 115.3h1.7M200.3 118.0h1.7M200.5 111.9h1.7M200.7 112.6h1.7M201.0 114.2h1.7M201.2 112.8h1.7M201.4 115.4h1.7M201.7 111.2h1.7M201.9 111.9h1.7M202.1 115.5h1.7M202.3 113.7h1.7M202.6 115.6h1.7M202.8 118.1h1.7M203.0 114.4h1.7M203.3 116.6h1.7M203.5 117.3h1.7M203.7 115.2h1.7M204.0 115.4h1.7M204.2 114.6h1.7M204.4 113.0h1.7M204.7 114.4h1.7M204.9 116.5h1.7M205.1 113.0h1.7M205.4 120.1h1.7M205.6 120.9h1.7M205.8 114.4h1.7M206.1 116.7h1.7M206.3 114.6h1.7M206.5 116.9h1.7M206.7 112.5h1.7M207.0 118.2h1.7M207.2 113.3h1.7M207.4 112.8h1.7M207.7 107.4h1.7M207.9 114.7h1.7M208.1 116.3h1.7M208.4 120.0h1.7M208.6 107.5h1.7M208.8 120.0h1.7M209.1 118.9h1.7M209.3 120.2h1.7M209.5 114.8h1.7M209.8 121.2h1.7M210.0 116.7h1.7M210.2 112.9h1.7M210.5 119.0h1.7M210.7 121.2h1.7M210.9 113.3h1.7M211.1 116.6h1.7M211.4 118.8h1.7M211.6 118.5h1.7M211.8 117.9h1.7M212.1 118.7h1.7M212.3 117.4h1.7M212.5 128.5h1.7M212.8 124.0h1.7M213.0 115.7h1.7M213.2 111.7h1.7M213.5 118.0h1.7M213.7 118.8h1.7M213.9 115.3h1.7M214.2 121.3h1.7M214.4 120.3h1.7M214.6 111.2h1.7M214.8 115.2h1.7M215.1 121.4h1.7M215.3 118.9h1.7M215.5 121.1h1.7M215.8 119.9h1.7M216.0 111.6h1.7M216.2 120.0h1.7M216.5 114.2h1.7M216.7 119.6h1.7M216.9 115.8h1.7M217.2 119.9h1.7M217.4 124.6h1.7M217.6 114.9h1.7M217.9 114.4h1.7M218.1 115.4h1.7M218.3 119.6h1.7M218.6 115.1h1.7M218.8 111.3h1.7M219.0 124.0h1.7M219.2 118.6h1.7M219.5 117.0h1.7M219.7 112.1h1.7M219.9 118.3h1.7M220.2 117.2h1.7M220.4 115.3h1.7M220.6 119.9h1.7M220.9 114.3h1.7M221.1 121.5h1.7M221.3 119.9h1.7M221.6 119.6h1.7M221.8 116.4h1.7M222.0 120.9h1.7M222.3 119.7h1.7M222.5 117.9h1.7M222.7 120.7h1.7M223.0 119.8h1.7M223.2 118.5h1.7M223.4 118.3h1.7M223.7 114.7h1.7M223.9 119.6h1.7M224.1 122.9h1.7M224.3 118.3h1.7M224.6 120.8h1.7M224.8 115.1h1.7M225.0 120.8h1.7M225.3 119.2h1.7M225.5 123.4h1.7M225.7 126.3h1.7M226.0 118.6h1.7M226.2 117.6h1.7M226.4 118.3h1.7M226.7 117.9h1.7M226.9 112.4h1.7M227.1 124.8h1.7M227.4 112.3h1.7M227.6 121.3h1.7M227.8 116.0h1.7M228.1 116.7h1.7M228.3 112.0h1.7M228.5 120.0h1.7M228.7 118.3h1.7M229.0 122.2h1.7M229.2 119.6h1.7M229.4 116.3h1.7M229.7 116.0h1.7M229.9 120.6h1.7M230.1 121.3h1.7M230.4 122.9h1.7M230.6 113.6h1.7M230.8 118.6h1.7M231.1 118.3h1.7M231.3 124.0h1.7M231.5 119.5h1.7M231.8 117.3h1.7M232.0 115.8h1.7M232.2 118.4h1.7M232.5 116.2h1.7M232.7 119.2h1.7M232.9 112.4h1.7M233.1 111.2h1.7M233.4 118.8h1.7M233.6 124.6h1.7M233.8 122.0h1.7M234.1 115.3h1.7M234.3 123.1h1.7M234.5 117.0h1.7M234.8 115.7h1.7M235.0 117.3h1.7M235.2 112.0h1.7M235.5 119.6h1.7M235.7 110.1h1.7M235.9 123.4h1.7M236.2 123.3h1.7M236.4 114.3h1.7M236.6 111.3h1.7M236.8 119.2h1.7M237.1 117.5h1.7M237.3 118.4h1.7M237.5 117.9h1.7M237.8 117.1h1.7M238.0 119.2h1.7M238.2 116.7h1.7M238.5 118.8h1.7M238.7 123.7h1.7M238.9 114.8h1.7M239.2 123.1h1.7M239.4 124.7h1.7M239.6 124.7h1.7M239.9 120.5h1.7M240.1 123.1h1.7M240.3 122.6h1.7M240.6 125.1h1.7M240.8 112.7h1.7M241.0 122.8h1.7M241.2 118.3h1.7M241.5 124.4h1.7M241.7 118.3h1.7M241.9 126.9h1.7M242.2 128.3h1.7M242.4 121.6h1.7M242.6 119.3h1.7M242.9 122.5h1.7M243.1 118.6h1.7M243.3 116.2h1.7M243.6 115.4h1.7M243.8 122.9h1.7M244.0 118.6h1.7M244.3 126.1h1.7M244.5 118.3h1.7M244.7 123.2h1.7M245.0 118.3h1.7M245.2 122.7h1.7M245.4 119.8h1.7M245.7 114.3h1.7M245.9 115.8h1.7M246.1 123.1h1.7M246.3 122.4h1.7M246.6 124.1h1.7M246.8 114.5h1.7M247.0 117.6h1.7M247.3 118.5h1.7M247.5 123.4h1.7M247.7 125.4h1.7M248.0 113.6h1.7M248.2 118.3h1.7M248.4 116.7h1.7M248.7 120.9h1.7M248.9 125.8h1.7M249.1 124.8h1.7M249.4 115.9h1.7M249.6 121.1h1.7M249.8 119.0h1.7M250.1 117.2h1.7M250.3 112.3h1.7M250.5 119.0h1.7M250.7 122.5h1.7M251.0 126.7h1.7M251.2 122.3h1.7M251.4 113.2h1.7M251.7 120.0h1.7M251.9 122.7h1.7M252.1 123.4h1.7M252.4 116.0h1.7M252.6 125.3h1.7M252.8 120.8h1.7M253.1 117.6h1.7M253.3 117.3h1.7M253.5 124.7h1.7M253.8 120.0h1.7M254.0 127.5h1.7M254.2 116.9h1.7M254.5 119.3h1.7M254.7 118.5h1.7M254.9 121.3h1.7M255.1 116.6h1.7M255.4 119.0h1.7M255.6 121.2h1.7M255.8 114.1h1.7M256.1 128.7h1.7M256.3 115.3h1.7M256.5 121.6h1.7M256.8 123.2h1.7M257.0 121.1h1.7M257.2 122.7h1.7M257.5 117.1h1.7M257.7 125.7h1.7M257.9 127.3h1.7M258.2 120.8h1.7M258.4 115.3h1.7M258.6 121.1h1.7M258.8 116.7h1.7M259.1 118.9h1.7M259.3 117.2h1.7M259.5 121.7h1.7M259.8 116.6h1.7M260.0 122.8h1.7M260.2 117.9h1.7M260.5 117.8h1.7M260.7 112.6h1.7M260.9 124.1h1.7M261.2 124.8h1.7M261.4 119.9h1.7M261.6 124.1h1.7M261.9 120.0h1.7M262.1 122.9h1.7M262.3 123.0h1.7M262.6 120.6h1.7M262.8 119.9h1.7M263.0 121.1h1.7M263.2 125.2h1.7M263.5 113.4h1.7M263.7 116.0h1.7M263.9 118.2h1.7M264.2 125.6h1.7M264.4 116.7h1.7M264.6 125.8h1.7M264.9 127.4h1.7M265.1 119.5h1.7M265.3 123.6h1.7M265.6 122.0h1.7M265.8 117.1h1.7M266.0 117.2h1.7M266.3 113.4h1.7M266.5 123.8h1.7M266.7 126.8h1.7M267.0 116.7h1.7M267.2 118.6h1.7M267.4 122.4h1.7M267.6 124.1h1.7M267.9 121.1h1.7M268.1 113.3h1.7M268.3 117.0h1.7M268.6 115.8h1.7M268.8 114.0h1.7M269.0 124.6h1.7M269.3 124.4h1.7M269.5 126.0h1.7M269.7 121.5h1.7M270.0 118.4h1.7M270.2 124.1h1.7M270.4 119.5h1.7M270.7 117.6h1.7M270.9 113.8h1.7M271.1 121.1h1.7M271.4 114.0h1.7M271.6 115.5h1.7M271.8 121.5h1.7M272.0 116.5h1.7M272.3 118.7h1.7M272.5 113.6h1.7M272.7 118.4h1.7M273.0 122.3h1.7M273.2 122.4h1.7M273.4 118.8h1.7M273.7 113.9h1.7M273.9 113.6h1.7M274.1 119.9h1.7M274.4 120.9h1.7M274.6 115.5h1.7M274.8 118.2h1.7M275.1 123.5h1.7M275.3 117.6h1.7M275.5 112.2h1.7M275.8 128.8h1.7M276.0 114.1h1.7M276.2 122.0h1.7M276.4 119.8h1.7M276.7 121.1h1.7M276.9 123.9h1.7M277.1 122.5h1.7M277.4 118.4h1.7M277.6 123.9h1.7M277.8 120.5h1.7M278.1 119.2h1.7M278.3 117.5h1.7M278.5 114.3h1.7M278.8 121.1h1.7M279.0 114.4h1.7M279.2 119.9h1.7M279.5 119.5h1.7M279.7 122.0h1.7M279.9 122.1h1.7M280.2 127.5h1.7M280.4 126.4h1.7M280.6 117.1h1.7M280.8 118.8h1.7M281.1 123.8h1.7M281.3 116.6h1.7M281.5 115.0h1.7M281.8 114.7h1.7M282.0 123.4h1.7M282.2 118.9h1.7M282.5 118.9h1.7M282.7 116.3h1.7M282.9 115.4h1.7M283.2 123.1h1.7M283.4 125.4h1.7M283.6 117.9h1.7M283.9 117.1h1.7M284.1 119.0h1.7M284.3 111.9h1.7M284.6 125.6h1.7M284.8 112.9h1.7M285.0 115.4h1.7M285.2 115.6h1.7M285.5 125.2h1.7M285.7 119.6h1.7M285.9 117.2h1.7M286.2 122.0h1.7M286.4 118.4h1.7M286.6 118.4h1.7M286.9 123.8h1.7M287.1 124.1h1.7M287.3 121.3h1.7M287.6 124.4h1.7M287.8 117.0h1.7M288.0 123.3h1.7M288.3 124.5h1.7M288.5 112.9h1.7M288.7 119.4h1.7M289.0 109.6h1.7M289.2 118.5h1.7M289.4 126.5h1.7M289.6 118.6h1.7M289.9 119.7h1.7M290.1 119.0h1.7M290.3 119.8h1.7M290.6 119.1h1.7M290.8 114.9h1.7M291.0 117.7h1.7M291.3 121.4h1.7M291.5 121.8h1.7M291.7 120.7h1.7M292.0 122.3h1.7M292.2 121.8h1.7M292.4 120.2h1.7M292.7 119.9h1.7M292.9 120.2h1.7M293.1 118.3h1.7M293.4 123.9h1.7M293.6 118.0h1.7M293.8 122.9h1.7M294.0 120.9h1.7M294.3 120.9h1.7M294.5 118.6h1.7M294.7 123.8h1.7M295.0 119.1h1.7M295.2 116.5h1.7M295.4 123.3h1.7M295.7 121.1h1.7M295.9 116.0h1.7M296.1 125.7h1.7M296.4 122.1h1.7M296.6 114.4h1.7M296.8 113.1h1.7M297.1 118.5h1.7M297.3 119.3h1.7M297.5 124.0h1.7M297.8 120.6h1.7M298.0 124.8h1.7M298.2 126.5h1.7M298.4 114.3h1.7M298.7 120.1h1.7M298.9 126.4h1.7M299.1 118.5h1.7M299.4 121.7h1.7M299.6 120.8h1.7M299.8 122.7h1.7M300.1 120.8h1.7M300.3 118.7h1.7M300.5 124.8h1.7" stroke="#898989" stroke-width="1.7" fill="none"/>
<polyline clip-path="url(#c1)" points="81.50,120.53 82.60,120.53 83.70,120.53 84.80,120.53 85.90,120.53 87.00,120.53 88.10,120.53 89.20,120.53 90.30,120.53 91.40,120.53 92.50,120.53 93.60,120.53 94.70,120.53 95.80,120.53 96.90,120.53 98.00,120.52 99.10,120.52 100.20,120.52 101.30,120.52 102.40,120.52 103.50,120.52 104.60,120.52 105.70,120.52 106.80,120.52 107.90,120.52 109.00,120.52 110.10,120.51 111.20,120.51 112.30,120.51 113.40,120.51 114.50,120.51 115.60,120.50 116.70,120.50 117.80,120.50 118.90,120.49 120.00,120.49 121.10,120.49 122.20,120.48 123.30,120.48 124.40,120.47 125.50,120.47 126.60,120.46 127.70,120.45 128.80,120.45 129.90,120.44 131.00,120.43 132.10,120.42 133.20,120.41 134.30,120.40 135.40,120.38 136.50,120.37 137.60,120.35 138.70,120.34 139.80,120.32 140.90,120.30 142.00,120.28 143.10,120.25 144.20,120.22 145.30,120.19 146.40,120.16 147.50,120.13 148.60,120.09 149.70,120.05 150.80,120.00 151.90,119.95 153.00,119.89 154.10,119.83 155.20,119.76 156.30,119.69 157.40,119.61 158.50,119.52 159.60,119.43 160.70,119.32 161.80,119.20 162.90,119.08 164.00,118.94 165.10,118.79 166.20,118.62 167.30,118.43 168.40,118.23 169.50,118.01 170.60,117.77 171.70,117.51 172.80,117.22 173.90,116.90 175.00,116.56 176.10,116.18 177.20,115.76 178.30,115.30 179.40,114.80 180.50,114.25 181.60,113.65 182.70,112.99 183.80,112.27 184.90,111.48 186.00,110.56 186.11,110.45 186.22,110.34 186.33,110.22 186.44,110.10 186.55,109.97 186.66,109.83 186.77,109.68 186.88,109.52 186.99,109.35 187.10,109.16 187.21,108.96 187.32,108.73 187.43,108.48 187.54,108.21 187.65,107.91 187.76,107.58 187.87,107.22 187.98,106.82 188.09,106.38 188.20,105.90 188.31,105.38 188.42,104.80 188.53,104.18 188.64,103.51 188.75,102.78 188.86,102.01 188.97,101.18 189.08,100.30 189.19,99.37 189.30,98.39 189.41,97.38 189.52,96.32 189.63,95.24 189.74,94.13 189.85,93.01 189.96,91.88 190.07,90.75 190.18,89.64 190.29,88.55 190.40,87.49 190.51,86.48 190.62,85.53 190.73,84.64 190.84,83.83 190.95,83.11 191.06,82.48 191.17,81.95 191.28,81.53 191.39,81.22 191.50,81.02 191.61,81.22 191.72,81.53 191.83,81.95 191.94,82.48 192.05,83.11 192.16,83.83 192.27,84.64 192.38,85.53 192.49,86.48 192.60,87.49 192.71,88.55 192.82,89.64 192.93,90.75 193.04,91.88 193.15,93.01 193.26,94.13 193.37,95.24 193.48,96.32 193.59,97.38 193.70,98.39 193.81,99.37 193.92,100.30 194.03,101.18 194.14,102.01 194.25,102.78 194.36,103.51 194.47,104.18 194.58,104.80 194.69,105.38 194.80,105.90 194.91,106.38 195.02,106.82 195.13,107.22 195.24,107.58 195.35,107.91 195.46,108.21 195.57,108.48 195.68,108.73 195.79,108.96 195.90,109.16 196.01,109.35 196.12,109.52 196.23,109.68 196.34,109.83 196.45,109.97 196.56,110.10 196.67,110.22 196.78,110.34 196.89,110.45 197.00,110.56 197.11,110.66 197.22,110.76 197.33,110.85 197.44,110.95 197.55,111.04 197.66,111.13 197.77,111.22 197.88,111.31 197.99,111.39 198.10,111.48 199.20,112.27 200.30,112.99 201.40,113.65 202.50,114.25 203.60,114.80 204.70,115.30 205.80,115.76 206.90,116.18 208.00,116.56 209.10,116.90 210.20,117.22 211.30,117.51 212.40,117.77 213.50,118.01 214.60,118.23 215.70,118.43 216.80,118.62 217.90,118.79 219.00,118.94 220.10,119.08 221.20,119.20 222.30,119.32 223.40,119.43 224.50,119.52 225.60,119.61 226.70,119.69 227.80,119.76 228.90,119.83 230.00,119.89 231.10,119.95 232.20,120.00 233.30,120.05 234.40,120.09 235.50,120.13 236.60,120.16 237.70,120.19 238.80,120.22 239.90,120.25 241.00,120.28 242.10,120.30 243.20,120.32 244.30,120.34 245.40,120.35 246.50,120.37 247.60,120.38 248.70,120.40 249.80,120.41 250.90,120.42 252.00,120.43 253.10,120.44 254.20,120.45 255.30,120.45 256.40,120.46 257.50,120.47 258.60,120.47 259.70,120.48 260.80,120.48 261.90,120.49 263.00,120.49 264.10,120.49 265.20,120.50 266.30,120.50 267.40,120.50 268.50,120.51 269.60,120.51 270.70,120.51 271.80,120.51 272.90,120.51 274.00,120.52 275.10,120.52 276.20,120.52 277.30,120.52 278.40,120.52 279.50,120.52 280.60,120.52 281.70,120.52 282.80,120.52 283.90,120.52 285.00,120.52 286.10,120.53 287.20,120.53 288.30,120.53 289.40,120.53 290.50,120.53 291.60,120.53 292.70,120.53 293.80,120.53 294.90,120.53 296.00,120.53 297.10,120.53 298.20,120.53 299.30,120.53 300.40,120.53 301.50,120.53" stroke="#cc1414" stroke-width="0.95" fill="none" stroke-linejoin="round"/>
<text x="78.7" y="90.03" font-family="Liberation Serif, serif" stroke="#000" stroke-width="0.12" font-size="13.5" text-anchor="end" textLength="16" lengthAdjust="spacingAndGlyphs">0.5</text>
<text x="78.7" y="125.43" font-family="Liberation Serif, serif" stroke="#000" stroke-width="0.12" font-size="13.5" text-anchor="end" textLength="16" lengthAdjust="spacingAndGlyphs">0.0</text>
<text x="93.3" y="94.10" font-family="Liberation Serif, serif" font-size="11" stroke="#000" stroke-width="0.2" textLength="5.6" lengthAdjust="spacingAndGlyphs">T</text>
<text x="98.5" y="96.50" font-family="Liberation Serif, serif" font-size="8.8" stroke="#000" stroke-width="0.15">L</text>
<text x="106" y="94.10" font-family="Liberation Serif, serif" font-size="11" stroke="#000" stroke-width="0.2" textLength="30.2" lengthAdjust="spacingAndGlyphs">= 12 ns</text>
<clipPath id="c2"><rect x="81.5" y="127.85999999999999" width="220.0" height="53.23000000000002"/></clipPath>
<path d="M81.5 138.66h5.3M301.5 138.66h-5.3" stroke="#000" stroke-width="1.05"/>
<path d="M81.5 174.26h5.3M301.5 174.26h-5.3" stroke="#000" stroke-width="1.05"/>
<path d="M125.5 127.85999999999999v3M125.5 181.09v-3" stroke="#000" stroke-width="1.05"/>
<path d="M191.5 127.85999999999999v3M191.5 181.09v-3" stroke="#000" stroke-width="1.05"/>
<path d="M257.5 127.85999999999999v3M257.5 181.09v-3" stroke="#000" stroke-width="1.05"/>
<path clip-path="url(#c2)" d="M80.8 180.0h1.7M81.0 167.3h1.7M81.2 173.5h1.7M81.5 173.9h1.7M81.7 172.9h1.7M81.9 170.4h1.7M82.2 174.8h1.7M82.4 168.4h1.7M82.6 177.3h1.7M82.8 171.8h1.7M83.1 176.0h1.7M83.3 182.2h1.7M83.5 175.4h1.7M83.8 175.8h1.7M84.0 176.8h1.7M84.2 168.6h1.7M84.5 176.0h1.7M84.7 172.5h1.7M84.9 169.9h1.7M85.2 167.6h1.7M85.4 171.5h1.7M85.6 169.8h1.7M85.9 173.4h1.7M86.1 179.2h1.7M86.3 167.8h1.7M86.6 172.3h1.7M86.8 168.2h1.7M87.0 174.3h1.7M87.2 177.7h1.7M87.5 175.7h1.7M87.7 173.0h1.7M87.9 172.1h1.7M88.2 171.8h1.7M88.4 174.3h1.7M88.6 175.8h1.7M88.9 170.8h1.7M89.1 171.4h1.7M89.3 178.6h1.7M89.6 171.2h1.7M89.8 170.1h1.7M90.0 172.0h1.7M90.3 175.4h1.7M90.5 171.5h1.7M90.7 170.3h1.7M91.0 166.0h1.7M91.2 177.7h1.7M91.4 175.9h1.7M91.6 164.9h1.7M91.9 167.4h1.7M92.1 174.2h1.7M92.3 166.2h1.7M92.6 172.5h1.7M92.8 176.9h1.7M93.0 168.9h1.7M93.3 173.2h1.7M93.5 169.8h1.7M93.7 173.1h1.7M94.0 166.8h1.7M94.2 172.9h1.7M94.4 175.7h1.7M94.7 175.7h1.7M94.9 170.9h1.7M95.1 172.4h1.7M95.4 174.0h1.7M95.6 173.1h1.7M95.8 172.3h1.7M96.0 178.6h1.7M96.3 171.8h1.7M96.5 175.3h1.7M96.7 172.9h1.7M97.0 172.2h1.7M97.2 172.2h1.7M97.4 166.9h1.7M97.7 172.1h1.7M97.9 167.3h1.7M98.1 166.3h1.7M98.4 174.8h1.7M98.6 175.7h1.7M98.8 173.5h1.7M99.1 172.8h1.7M99.3 171.7h1.7M99.5 177.0h1.7M99.8 176.1h1.7M100.0 172.2h1.7M100.2 174.3h1.7M100.5 171.7h1.7M100.7 172.9h1.7M100.9 172.6h1.7M101.1 169.1h1.7M101.4 172.5h1.7M101.6 172.7h1.7M101.8 168.9h1.7M102.1 169.2h1.7M102.3 168.0h1.7M102.5 171.0h1.7M102.8 175.7h1.7M103.0 172.4h1.7M103.2 168.3h1.7M103.5 172.9h1.7M103.7 172.1h1.7M103.9 170.9h1.7M104.2 167.5h1.7M104.4 173.7h1.7M104.6 170.6h1.7M104.8 173.9h1.7M105.1 169.1h1.7M105.3 174.4h1.7M105.5 171.6h1.7M105.8 166.5h1.7M106.0 175.5h1.7M106.2 172.4h1.7M106.5 175.8h1.7M106.7 169.5h1.7M106.9 171.5h1.7M107.2 168.2h1.7M107.4 173.0h1.7M107.6 178.2h1.7M107.9 175.1h1.7M108.1 166.4h1.7M108.3 166.8h1.7M108.6 177.7h1.7M108.8 173.4h1.7M109.0 170.9h1.7M109.2 176.5h1.7M109.5 171.9h1.7M109.7 167.3h1.7M109.9 179.9h1.7M110.2 174.0h1.7M110.4 172.3h1.7M110.6 170.1h1.7M110.9 172.7h1.7M111.1 170.4h1.7M111.3 175.7h1.7M111.6 171.1h1.7M111.8 177.8h1.7M112.0 172.7h1.7M112.3 167.7h1.7M112.5 165.6h1.7M112.7 173.9h1.7M113.0 175.7h1.7M113.2 173.9h1.7M113.4 175.5h1.7M113.7 177.3h1.7M113.9 173.2h1.7M114.1 177.9h1.7M114.3 172.8h1.7M114.6 173.4h1.7M114.8 174.2h1.7M115.0 177.9h1.7M115.3 172.3h1.7M115.5 175.4h1.7M115.7 171.9h1.7M116.0 169.4h1.7M116.2 172.2h1.7M116.4 167.1h1.7M116.7 172.7h1.7M116.9 174.7h1.7M117.1 173.0h1.7M117.4 171.9h1.7M117.6 174.1h1.7M117.8 172.2h1.7M118.0 175.8h1.7M118.3 174.4h1.7M118.5 166.6h1.7M118.7 173.8h1.7M119.0 174.7h1.7M119.2 172.1h1.7M119.4 179.5h1.7M119.7 175.4h1.7M119.9 181.7h1.7M120.1 173.6h1.7M120.4 170.2h1.7M120.6 168.5h1.7M120.8 178.7h1.7M121.1 168.4h1.7M121.3 172.3h1.7M121.5 172.4h1.7M121.8 172.6h1.7M122.0 170.2h1.7M122.2 172.7h1.7M122.5 172.0h1.7M122.7 172.8h1.7M122.9 170.7h1.7M123.1 173.1h1.7M123.4 174.3h1.7M123.6 169.3h1.7M123.8 171.3h1.7M124.1 172.2h1.7M124.3 176.6h1.7M124.5 176.5h1.7M124.8 173.1h1.7M125.0 175.9h1.7M125.2 166.2h1.7M125.5 169.5h1.7M125.7 168.1h1.7M125.9 171.8h1.7M126.2 166.3h1.7M126.4 174.6h1.7M126.6 173.8h1.7M126.8 171.9h1.7M127.1 175.1h1.7M127.3 174.4h1.7M127.5 173.3h1.7M127.8 168.6h1.7M128.0 169.4h1.7M128.2 176.4h1.7M128.5 170.0h1.7M128.7 175.0h1.7M128.9 176.0h1.7M129.2 176.7h1.7M129.4 171.6h1.7M129.6 169.5h1.7M129.9 171.1h1.7M130.1 170.3h1.7M130.3 174.4h1.7M130.6 181.2h1.7M130.8 168.5h1.7M131.0 172.5h1.7M131.2 174.5h1.7M131.5 172.6h1.7M131.7 174.7h1.7M131.9 171.8h1.7M132.2 175.7h1.7M132.4 172.8h1.7M132.6 170.1h1.7M132.9 175.5h1.7M133.1 169.7h1.7M133.3 171.8h1.7M133.6 169.3h1.7M133.8 171.9h1.7M134.0 175.7h1.7M134.3 167.8h1.7M134.5 174.3h1.7M134.7 171.5h1.7M135.0 164.5h1.7M135.2 173.2h1.7M135.4 172.0h1.7M135.7 172.2h1.7M135.9 178.3h1.7M136.1 173.4h1.7M136.3 169.5h1.7M136.6 166.3h1.7M136.8 171.1h1.7M137.0 171.3h1.7M137.3 171.1h1.7M137.5 174.0h1.7M137.7 175.0h1.7M138.0 170.6h1.7M138.2 170.3h1.7M138.4 172.4h1.7M138.7 166.1h1.7M138.9 176.9h1.7M139.1 174.4h1.7M139.4 173.8h1.7M139.6 172.2h1.7M139.8 173.9h1.7M140.1 166.9h1.7M140.3 167.9h1.7M140.5 172.1h1.7M140.7 167.9h1.7M141.0 170.0h1.7M141.2 174.4h1.7M141.4 173.1h1.7M141.7 169.9h1.7M141.9 164.6h1.7M142.1 171.4h1.7M142.4 176.7h1.7M142.6 175.0h1.7M142.8 165.7h1.7M143.1 174.1h1.7M143.3 169.2h1.7M143.5 169.8h1.7M143.8 170.1h1.7M144.0 176.6h1.7M144.2 177.3h1.7M144.5 166.1h1.7M144.7 174.8h1.7M144.9 171.4h1.7M145.1 178.1h1.7M145.4 176.6h1.7M145.6 166.9h1.7M145.8 175.0h1.7M146.1 165.9h1.7M146.3 167.3h1.7M146.5 177.5h1.7M146.8 171.7h1.7M147.0 173.1h1.7M147.2 174.7h1.7M147.5 174.7h1.7M147.7 166.1h1.7M147.9 170.7h1.7M148.2 168.2h1.7M148.4 171.7h1.7M148.6 170.6h1.7M148.8 170.1h1.7M149.1 170.7h1.7M149.3 174.8h1.7M149.5 170.4h1.7M149.8 173.1h1.7M150.0 166.5h1.7M150.2 166.5h1.7M150.5 174.6h1.7M150.7 172.6h1.7M150.9 171.9h1.7M151.2 175.2h1.7M151.4 171.5h1.7M151.6 172.3h1.7M151.9 173.1h1.7M152.1 165.7h1.7M152.3 172.4h1.7M152.6 166.3h1.7M152.8 169.9h1.7M153.0 172.3h1.7M153.2 170.2h1.7M153.5 170.0h1.7M153.7 174.1h1.7M153.9 170.0h1.7M154.2 173.1h1.7M154.4 173.9h1.7M154.6 169.3h1.7M154.9 169.8h1.7M155.1 167.8h1.7M155.3 168.9h1.7M155.6 166.5h1.7M155.8 165.0h1.7M156.0 163.5h1.7M156.3 169.9h1.7M156.5 172.6h1.7M156.7 170.0h1.7M157.0 177.6h1.7M157.2 170.2h1.7M157.4 169.6h1.7M157.7 163.1h1.7M157.9 175.5h1.7M158.1 172.1h1.7M158.3 170.9h1.7M158.6 174.5h1.7M158.8 167.9h1.7M159.0 173.9h1.7M159.3 168.0h1.7M159.5 166.8h1.7M159.7 169.9h1.7M160.0 169.8h1.7M160.2 167.2h1.7M160.4 176.1h1.7M160.7 174.5h1.7M160.9 170.9h1.7M161.1 175.6h1.7M161.4 170.7h1.7M161.6 158.7h1.7M161.8 171.0h1.7M162.1 163.9h1.7M162.3 166.9h1.7M162.5 174.5h1.7M162.7 168.3h1.7M163.0 169.2h1.7M163.2 172.1h1.7M163.4 173.6h1.7M163.7 166.7h1.7M163.9 169.0h1.7M164.1 167.8h1.7M164.4 171.5h1.7M164.6 169.3h1.7M164.8 165.1h1.7M165.1 169.8h1.7M165.3 167.5h1.7M165.5 164.5h1.7M165.8 164.0h1.7M166.0 166.5h1.7M166.2 171.2h1.7M166.5 165.9h1.7M166.7 170.4h1.7M166.9 167.4h1.7M167.1 161.8h1.7M167.4 168.4h1.7M167.6 174.1h1.7M167.8 174.4h1.7M168.1 169.8h1.7M168.3 164.1h1.7M168.5 166.5h1.7M168.8 169.0h1.7M169.0 167.1h1.7M169.2 172.8h1.7M169.5 163.9h1.7M169.7 169.6h1.7M169.9 162.4h1.7M170.2 160.8h1.7M170.4 164.3h1.7M170.6 172.8h1.7M170.8 162.1h1.7M171.1 163.2h1.7M171.3 169.9h1.7M171.5 171.4h1.7M171.8 164.4h1.7M172.0 170.0h1.7M172.2 164.9h1.7M172.5 170.2h1.7M172.7 168.0h1.7M172.9 158.8h1.7M173.2 166.8h1.7M173.4 166.0h1.7M173.6 166.9h1.7M173.9 165.8h1.7M174.1 168.4h1.7M174.3 174.6h1.7M174.6 165.5h1.7M174.8 167.5h1.7M175.0 164.6h1.7M175.2 161.1h1.7M175.5 160.5h1.7M175.7 162.5h1.7M175.9 165.2h1.7M176.2 165.8h1.7M176.4 165.7h1.7M176.6 164.6h1.7M176.9 164.7h1.7M177.1 170.4h1.7M177.3 174.3h1.7M177.6 169.1h1.7M177.8 164.4h1.7M178.0 154.3h1.7M178.3 167.5h1.7M178.5 164.7h1.7M178.7 163.6h1.7M179.0 161.3h1.7M179.2 156.7h1.7M179.4 162.9h1.7M179.7 172.1h1.7M179.9 162.8h1.7M180.1 171.7h1.7M180.3 159.7h1.7M180.6 166.6h1.7M180.8 165.4h1.7M181.0 164.7h1.7M181.3 164.8h1.7M181.5 164.8h1.7M181.7 164.3h1.7M182.0 166.5h1.7M182.2 168.2h1.7M182.4 155.4h1.7M182.7 166.1h1.7M182.9 165.2h1.7M183.1 160.6h1.7M183.4 162.0h1.7M183.6 169.6h1.7M183.8 164.6h1.7M184.1 166.2h1.7M184.3 164.8h1.7M184.5 164.4h1.7M184.7 164.2h1.7M185.0 154.9h1.7M185.2 162.6h1.7M185.4 164.6h1.7M185.7 158.5h1.7M185.9 164.9h1.7M186.1 156.8h1.7M186.4 158.5h1.7M186.6 156.0h1.7M186.8 156.2h1.7M187.1 160.6h1.7M187.3 153.8h1.7M187.5 161.1h1.7M187.8 157.3h1.7M188.0 156.2h1.7M188.2 152.7h1.7M188.5 150.4h1.7M188.7 149.8h1.7M188.9 147.2h1.7M189.1 146.4h1.7M189.4 140.4h1.7M189.6 140.1h1.7M189.8 135.9h1.7M190.1 133.6h1.7M190.3 136.7h1.7M190.5 134.1h1.7M190.8 134.2h1.7M191.0 133.3h1.7M191.2 136.2h1.7M191.5 137.3h1.7M191.7 137.9h1.7M191.9 141.7h1.7M192.2 144.9h1.7M192.4 148.7h1.7M192.6 147.9h1.7M192.8 149.9h1.7M193.1 155.6h1.7M193.3 155.9h1.7M193.5 160.1h1.7M193.8 158.2h1.7M194.0 158.2h1.7M194.2 152.7h1.7M194.5 160.3h1.7M194.7 166.4h1.7M194.9 163.3h1.7M195.2 161.5h1.7M195.4 164.7h1.7M195.6 167.8h1.7M195.9 158.6h1.7M196.1 170.9h1.7M196.3 164.7h1.7M196.6 167.1h1.7M196.8 160.5h1.7M197.0 160.2h1.7M197.2 166.4h1.7M197.5 160.1h1.7M197.7 159.6h1.7M197.9 157.3h1.7M198.2 161.8h1.7M198.4 164.1h1.7M198.6 167.3h1.7M198.9 160.4h1.7M199.1 162.4h1.7M199.3 167.4h1.7M199.6 167.6h1.7M199.8 170.0h1.7M200.0 157.9h1.7M200.3 161.2h1.7M200.5 168.7h1.7M200.7 167.7h1.7M201.0 155.9h1.7M201.2 164.5h1.7M201.4 164.8h1.7M201.7 166.9h1.7M201.9 165.3h1.7M202.1 168.6h1.7M202.3 172.8h1.7M202.6 165.3h1.7M202.8 174.0h1.7M203.0 161.5h1.7M203.3 162.0h1.7M203.5 165.6h1.7M203.7 165.6h1.7M204.0 166.5h1.7M204.2 165.2h1.7M204.4 167.5h1.7M204.7 163.0h1.7M204.9 169.2h1.7M205.1 167.2h1.7M205.4 161.5h1.7M205.6 175.3h1.7M205.8 166.8h1.7M206.1 164.6h1.7M206.3 155.8h1.7M206.5 170.0h1.7M206.7 168.0h1.7M207.0 168.6h1.7M207.2 171.8h1.7M207.4 161.1h1.7M207.7 166.0h1.7M207.9 165.5h1.7M208.1 165.0h1.7M208.4 163.7h1.7M208.6 168.4h1.7M208.8 163.9h1.7M209.1 166.1h1.7M209.3 167.2h1.7M209.5 161.0h1.7M209.8 171.1h1.7M210.0 167.2h1.7M210.2 166.9h1.7M210.5 162.6h1.7M210.7 176.0h1.7M210.9 168.1h1.7M211.1 166.7h1.7M211.4 167.4h1.7M211.6 170.3h1.7M211.8 171.2h1.7M212.1 165.8h1.7M212.3 169.3h1.7M212.5 171.8h1.7M212.8 161.4h1.7M213.0 167.9h1.7M213.2 167.5h1.7M213.5 169.8h1.7M213.7 166.4h1.7M213.9 168.8h1.7M214.2 169.0h1.7M214.4 174.4h1.7M214.6 170.6h1.7M214.8 172.2h1.7M215.1 168.6h1.7M215.3 169.1h1.7M215.5 168.5h1.7M215.8 167.6h1.7M216.0 170.5h1.7M216.2 166.7h1.7M216.5 173.6h1.7M216.7 166.0h1.7M216.9 165.2h1.7M217.2 167.4h1.7M217.4 165.9h1.7M217.6 166.9h1.7M217.9 171.4h1.7M218.1 173.1h1.7M218.3 163.5h1.7M218.6 172.2h1.7M218.8 171.4h1.7M219.0 169.4h1.7M219.2 172.7h1.7M219.5 171.1h1.7M219.7 176.0h1.7M219.9 165.3h1.7M220.2 168.2h1.7M220.4 171.0h1.7M220.6 173.1h1.7M220.9 165.5h1.7M221.1 165.1h1.7M221.3 166.9h1.7M221.6 166.0h1.7M221.8 164.1h1.7M222.0 169.6h1.7M222.3 166.9h1.7M222.5 169.3h1.7M222.7 173.4h1.7M223.0 163.1h1.7M223.2 178.2h1.7M223.4 175.2h1.7M223.7 172.5h1.7M223.9 171.3h1.7M224.1 172.2h1.7M224.3 167.5h1.7M224.6 169.9h1.7M224.8 167.6h1.7M225.0 175.1h1.7M225.3 168.0h1.7M225.5 171.5h1.7M225.7 164.6h1.7M226.0 173.3h1.7M226.2 170.9h1.7M226.4 172.8h1.7M226.7 168.6h1.7M226.9 169.0h1.7M227.1 174.5h1.7M227.4 174.0h1.7M227.6 169.8h1.7M227.8 170.7h1.7M228.1 176.6h1.7M228.3 169.8h1.7M228.5 176.0h1.7M228.7 168.7h1.7M229.0 171.5h1.7M229.2 170.3h1.7M229.4 175.5h1.7M229.7 179.2h1.7M229.9 171.9h1.7M230.1 169.6h1.7M230.4 174.5h1.7M230.6 170.9h1.7M230.8 172.9h1.7M231.1 178.5h1.7M231.3 174.7h1.7M231.5 169.8h1.7M231.8 170.4h1.7M232.0 169.4h1.7M232.2 169.4h1.7M232.5 173.9h1.7M232.7 173.4h1.7M232.9 170.3h1.7M233.1 165.7h1.7M233.4 166.2h1.7M233.6 171.8h1.7M233.8 171.5h1.7M234.1 175.6h1.7M234.3 167.1h1.7M234.5 171.2h1.7M234.8 173.8h1.7M235.0 175.9h1.7M235.2 166.8h1.7M235.5 177.7h1.7M235.7 172.7h1.7M235.9 173.9h1.7M236.2 167.1h1.7M236.4 169.9h1.7M236.6 169.9h1.7M236.8 176.7h1.7M237.1 165.9h1.7M237.3 171.3h1.7M237.5 164.7h1.7M237.8 172.5h1.7M238.0 171.1h1.7M238.2 172.5h1.7M238.5 165.7h1.7M238.7 168.5h1.7M238.9 170.7h1.7M239.2 170.6h1.7M239.4 178.6h1.7M239.6 171.4h1.7M239.9 173.5h1.7M240.1 182.3h1.7M240.3 167.8h1.7M240.6 171.9h1.7M240.8 171.7h1.7M241.0 174.5h1.7M241.2 169.2h1.7M241.5 173.3h1.7M241.7 176.1h1.7M241.9 176.2h1.7M242.2 172.3h1.7M242.4 170.2h1.7M242.6 165.0h1.7M242.9 175.5h1.7M243.1 175.1h1.7M243.3 168.8h1.7M243.6 173.1h1.7M243.8 175.2h1.7M244.0 172.8h1.7M244.3 174.1h1.7M244.5 169.0h1.7M244.7 173.9h1.7M245.0 171.0h1.7M245.2 175.6h1.7M245.4 171.0h1.7M245.7 178.7h1.7M245.9 170.5h1.7M246.1 169.8h1.7M246.3 171.8h1.7M246.6 174.1h1.7M246.8 176.0h1.7M247.0 169.9h1.7M247.3 167.8h1.7M247.5 173.5h1.7M247.7 173.8h1.7M248.0 175.4h1.7M248.2 172.5h1.7M248.4 177.3h1.7M248.7 171.9h1.7M248.9 174.3h1.7M249.1 176.4h1.7M249.4 174.7h1.7M249.6 173.5h1.7M249.8 177.9h1.7M250.1 174.8h1.7M250.3 165.9h1.7M250.5 173.7h1.7M250.7 173.2h1.7M251.0 173.1h1.7M251.2 172.9h1.7M251.4 175.3h1.7M251.7 165.9h1.7M251.9 169.5h1.7M252.1 174.9h1.7M252.4 179.5h1.7M252.6 174.0h1.7M252.8 173.0h1.7M253.1 166.5h1.7M253.3 170.4h1.7M253.5 171.0h1.7M253.8 170.1h1.7M254.0 166.6h1.7M254.2 176.6h1.7M254.5 171.8h1.7M254.7 175.4h1.7M254.9 172.9h1.7M255.1 175.2h1.7M255.4 177.3h1.7M255.6 174.2h1.7M255.8 173.9h1.7M256.1 176.4h1.7M256.3 169.7h1.7M256.5 164.2h1.7M256.8 171.4h1.7M257.0 175.0h1.7M257.2 172.3h1.7M257.5 170.2h1.7M257.7 176.6h1.7M257.9 172.6h1.7M258.2 178.6h1.7M258.4 171.9h1.7M258.6 169.5h1.7M258.8 176.3h1.7M259.1 170.3h1.7M259.3 176.9h1.7M259.5 172.0h1.7M259.8 173.3h1.7M260.0 176.0h1.7M260.2 173.6h1.7M260.5 167.8h1.7M260.7 175.0h1.7M260.9 173.0h1.7M261.2 175.4h1.7M261.4 177.4h1.7M261.6 174.4h1.7M261.9 172.3h1.7M262.1 175.7h1.7M262.3 175.7h1.7M262.6 178.7h1.7M262.8 170.6h1.7M263.0 173.5h1.7M263.2 174.9h1.7M263.5 173.0h1.7M263.7 174.4h1.7M263.9 171.5h1.7M264.2 171.4h1.7M264.4 169.1h1.7M264.6 179.5h1.7M264.9 169.5h1.7M265.1 172.4h1.7M265.3 177.5h1.7M265.6 172.3h1.7M265.8 175.9h1.7M266.0 177.5h1.7M266.3 175.2h1.7M266.5 168.2h1.7M266.7 170.9h1.7M267.0 178.4h1.7M267.2 174.7h1.7M267.4 172.1h1.7M267.6 173.8h1.7M267.9 173.0h1.7M268.1 171.4h1.7M268.3 174.2h1.7M268.6 169.2h1.7M268.8 173.2h1.7M269.0 173.7h1.7M269.3 171.5h1.7M269.5 170.7h1.7M269.7 184.3h1.7M270.0 176.6h1.7M270.2 173.1h1.7M270.4 168.9h1.7M270.7 174.3h1.7M270.9 172.2h1.7M271.1 179.7h1.7M271.4 179.2h1.7M271.6 168.8h1.7M271.8 176.7h1.7M272.0 174.5h1.7M272.3 176.6h1.7M272.5 178.0h1.7M272.7 163.4h1.7M273.0 176.6h1.7M273.2 174.9h1.7M273.4 172.7h1.7M273.7 173.4h1.7M273.9 175.4h1.7M274.1 173.4h1.7M274.4 173.7h1.7M274.6 175.7h1.7M274.8 174.9h1.7M275.1 174.5h1.7M275.3 166.9h1.7M275.5 172.4h1.7M275.8 173.8h1.7M276.0 173.4h1.7M276.2 174.6h1.7M276.4 171.4h1.7M276.7 174.6h1.7M276.9 172.1h1.7M277.1 169.6h1.7M277.4 173.8h1.7M277.6 170.0h1.7M277.8 173.7h1.7M278.1 177.8h1.7M278.3 169.4h1.7M278.5 169.3h1.7M278.8 172.1h1.7M279.0 178.7h1.7M279.2 170.9h1.7M279.5 176.8h1.7M279.7 173.6h1.7M279.9 172.8h1.7M280.2 159.6h1.7M280.4 170.4h1.7M280.6 174.4h1.7M280.8 171.6h1.7M281.1 173.9h1.7M281.3 169.7h1.7M281.5 172.7h1.7M281.8 171.1h1.7M282.0 172.9h1.7M282.2 171.2h1.7M282.5 171.9h1.7M282.7 171.5h1.7M282.9 176.5h1.7M283.2 172.5h1.7M283.4 174.1h1.7M283.6 169.7h1.7M283.9 174.4h1.7M284.1 172.1h1.7M284.3 172.4h1.7M284.6 173.7h1.7M284.8 176.0h1.7M285.0 175.8h1.7M285.2 172.0h1.7M285.5 173.9h1.7M285.7 168.1h1.7M285.9 175.7h1.7M286.2 173.1h1.7M286.4 178.8h1.7M286.6 173.3h1.7M286.9 170.9h1.7M287.1 174.9h1.7M287.3 164.7h1.7M287.6 173.7h1.7M287.8 175.0h1.7M288.0 174.7h1.7M288.3 166.4h1.7M288.5 171.7h1.7M288.7 174.9h1.7M289.0 171.8h1.7M289.2 169.5h1.7M289.4 174.1h1.7M289.6 174.6h1.7M289.9 173.6h1.7M290.1 174.2h1.7M290.3 176.1h1.7M290.6 170.8h1.7M290.8 173.5h1.7M291.0 178.3h1.7M291.3 175.5h1.7M291.5 173.4h1.7M291.7 171.3h1.7M292.0 184.2h1.7M292.2 172.9h1.7M292.4 167.3h1.7M292.7 169.5h1.7M292.9 179.5h1.7M293.1 176.3h1.7M293.4 172.7h1.7M293.6 169.4h1.7M293.8 178.9h1.7M294.0 170.6h1.7M294.3 169.4h1.7M294.5 171.6h1.7M294.7 172.0h1.7M295.0 171.4h1.7M295.2 175.8h1.7M295.4 169.4h1.7M295.7 174.8h1.7M295.9 167.8h1.7M296.1 170.7h1.7M296.4 168.4h1.7M296.6 169.9h1.7M296.8 175.9h1.7M297.1 173.3h1.7M297.3 180.7h1.7M297.5 165.5h1.7M297.8 172.8h1.7M298.0 173.8h1.7M298.2 174.7h1.7M298.4 177.5h1.7M298.7 175.9h1.7M298.9 173.9h1.7M299.1 174.4h1.7M299.4 177.7h1.7M299.6 179.8h1.7M299.8 177.9h1.7M300.1 177.0h1.7M300.3 166.0h1.7M300.5 176.0h1.7" stroke="#898989" stroke-width="1.7" fill="none"/>
<polyline clip-path="url(#c2)" points="81.50,173.67 82.60,173.67 83.70,173.66 84.80,173.66 85.90,173.65 87.00,173.64 88.10,173.64 89.20,173.63 90.30,173.63 91.40,173.62 92.50,173.61 93.60,173.60 94.70,173.60 95.80,173.59 96.90,173.58 98.00,173.57 99.10,173.56 100.20,173.55 101.30,173.54 102.40,173.53 103.50,173.51 104.60,173.50 105.70,173.49 106.80,173.47 107.90,173.46 109.00,173.44 110.10,173.43 111.20,173.41 112.30,173.39 113.40,173.37 114.50,173.35 115.60,173.33 116.70,173.31 117.80,173.29 118.90,173.26 120.00,173.24 121.10,173.21 122.20,173.18 123.30,173.15 124.40,173.12 125.50,173.09 126.60,173.05 127.70,173.02 128.80,172.98 129.90,172.94 131.00,172.90 132.10,172.85 133.20,172.81 134.30,172.76 135.40,172.71 136.50,172.65 137.60,172.59 138.70,172.53 139.80,172.47 140.90,172.41 142.00,172.34 143.10,172.26 144.20,172.19 145.30,172.11 146.40,172.02 147.50,171.93 148.60,171.84 149.70,171.74 150.80,171.63 151.90,171.53 153.00,171.41 154.10,171.29 155.20,171.16 156.30,171.03 157.40,170.89 158.50,170.74 159.60,170.59 160.70,170.43 161.80,170.25 162.90,170.07 164.00,169.89 165.10,169.69 166.20,169.48 167.30,169.26 168.40,169.03 169.50,168.78 170.60,168.53 171.70,168.26 172.80,167.98 173.90,167.68 175.00,167.37 176.10,167.04 177.20,166.70 178.30,166.34 179.40,165.96 180.50,165.56 181.60,165.14 182.70,164.69 183.80,164.23 184.90,163.74 186.00,163.20 186.11,163.13 186.22,163.07 186.33,163.00 186.44,162.93 186.55,162.85 186.66,162.76 186.77,162.67 186.88,162.57 186.99,162.46 187.10,162.33 187.21,162.20 187.32,162.04 187.43,161.86 187.54,161.66 187.65,161.44 187.76,161.18 187.87,160.89 187.98,160.57 188.09,160.20 188.20,159.79 188.31,159.33 188.42,158.81 188.53,158.24 188.64,157.61 188.75,156.92 188.86,156.17 188.97,155.35 189.08,154.47 189.19,153.52 189.30,152.51 189.41,151.45 189.52,150.34 189.63,149.18 189.74,147.98 189.85,146.76 189.96,145.51 190.07,144.27 190.18,143.03 190.29,141.81 190.40,140.63 190.51,139.49 190.62,138.43 190.73,137.44 190.84,136.54 190.95,135.75 191.06,135.07 191.17,134.52 191.28,134.10 191.39,133.82 191.50,133.68 191.61,133.82 191.72,134.10 191.83,134.52 191.94,135.07 192.05,135.75 192.16,136.54 192.27,137.44 192.38,138.43 192.49,139.49 192.60,140.63 192.71,141.81 192.82,143.03 192.93,144.27 193.04,145.51 193.15,146.76 193.26,147.98 193.37,149.18 193.48,150.34 193.59,151.45 193.70,152.51 193.81,153.52 193.92,154.47 194.03,155.35 194.14,156.17 194.25,156.92 194.36,157.61 194.47,158.24 194.58,158.81 194.69,159.33 194.80,159.79 194.91,160.20 195.02,160.57 195.13,160.89 195.24,161.18 195.35,161.44 195.46,161.66 195.57,161.86 195.68,162.04 195.79,162.20 195.90,162.33 196.01,162.46 196.12,162.57 196.23,162.67 196.34,162.76 196.45,162.85 196.56,162.93 196.67,163.00 196.78,163.07 196.89,163.13 197.00,163.20 197.11,163.26 197.22,163.31 197.33,163.37 197.44,163.42 197.55,163.48 197.66,163.53 197.77,163.58 197.88,163.64 197.99,163.69 198.10,163.74 199.20,164.23 200.30,164.69 201.40,165.14 202.50,165.56 203.60,165.96 204.70,166.34 205.80,166.70 206.90,167.04 208.00,167.37 209.10,167.68 210.20,167.98 211.30,168.26 212.40,168.53 213.50,168.78 214.60,169.03 215.70,169.26 216.80,169.48 217.90,169.69 219.00,169.89 220.10,170.07 221.20,170.25 222.30,170.43 223.40,170.59 224.50,170.74 225.60,170.89 226.70,171.03 227.80,171.16 228.90,171.29 230.00,171.41 231.10,171.53 232.20,171.63 233.30,171.74 234.40,171.84 235.50,171.93 236.60,172.02 237.70,172.11 238.80,172.19 239.90,172.26 241.00,172.34 242.10,172.41 243.20,172.47 244.30,172.53 245.40,172.59 246.50,172.65 247.60,172.71 248.70,172.76 249.80,172.81 250.90,172.85 252.00,172.90 253.10,172.94 254.20,172.98 255.30,173.02 256.40,173.05 257.50,173.09 258.60,173.12 259.70,173.15 260.80,173.18 261.90,173.21 263.00,173.24 264.10,173.26 265.20,173.29 266.30,173.31 267.40,173.33 268.50,173.35 269.60,173.37 270.70,173.39 271.80,173.41 272.90,173.43 274.00,173.44 275.10,173.46 276.20,173.47 277.30,173.49 278.40,173.50 279.50,173.51 280.60,173.53 281.70,173.54 282.80,173.55 283.90,173.56 285.00,173.57 286.10,173.58 287.20,173.59 288.30,173.60 289.40,173.60 290.50,173.61 291.60,173.62 292.70,173.63 293.80,173.63 294.90,173.64 296.00,173.64 297.10,173.65 298.20,173.66 299.30,173.66 300.40,173.67 301.50,173.67" stroke="#cc1414" stroke-width="0.95" fill="none" stroke-linejoin="round"/>
<text x="78.7" y="143.26" font-family="Liberation Serif, serif" stroke="#000" stroke-width="0.12" font-size="13.5" text-anchor="end" textLength="16" lengthAdjust="spacingAndGlyphs">0.5</text>
<text x="78.7" y="178.66" font-family="Liberation Serif, serif" stroke="#000" stroke-width="0.12" font-size="13.5" text-anchor="end" textLength="16" lengthAdjust="spacingAndGlyphs">0.0</text>
<text x="93.3" y="148.60" font-family="Liberation Serif, serif" font-size="11" stroke="#000" stroke-width="0.2" textLength="5.6" lengthAdjust="spacingAndGlyphs">T</text>
<text x="98.5" y="151.00" font-family="Liberation Serif, serif" font-size="8.8" stroke="#000" stroke-width="0.15">L</text>
<text x="106" y="148.60" font-family="Liberation Serif, serif" font-size="11" stroke="#000" stroke-width="0.2" textLength="30.2" lengthAdjust="spacingAndGlyphs">= 18 ns</text>
<clipPath id="c3"><rect x="81.5" y="181.09" width="220.0" height="53.22999999999999"/></clipPath>
<path d="M81.5 191.89000000000001h5.3M301.5 191.89000000000001h-5.3" stroke="#000" stroke-width="1.05"/>
<path d="M81.5 227.49h5.3M301.5 227.49h-5.3" stroke="#000" stroke-width="1.05"/>
<path d="M125.5 181.09v3M125.5 234.32v-3" stroke="#000" stroke-width="1.05"/>
<path d="M191.5 181.09v3M191.5 234.32v-3" stroke="#000" stroke-width="1.05"/>
<path d="M257.5 181.09v3M257.5 234.32v-3" stroke="#000" stroke-width="1.05"/>
<path clip-path="url(#c3)" d="M80.8 221.7h1.7M81.0 230.9h1.7M81.2 233.6h1.7M81.5 232.3h1.7M81.7 225.0h1.7M81.9 231.2h1.7M82.2 230.9h1.7M82.4 225.0h1.7M82.6 227.6h1.7M82.8 230.9h1.7M83.1 219.0h1.7M83.3 225.1h1.7M83.5 231.3h1.7M83.8 225.8h1.7M84.0 220.8h1.7M84.2 226.0h1.7M84.5 232.4h1.7M84.7 222.9h1.7M84.9 226.2h1.7M85.2 223.4h1.7M85.4 229.0h1.7M85.6 229.8h1.7M85.9 224.0h1.7M86.1 225.3h1.7M86.3 225.7h1.7M86.6 223.6h1.7M86.8 231.1h1.7M87.0 227.5h1.7M87.2 228.5h1.7M87.5 220.5h1.7M87.7 227.3h1.7M87.9 227.8h1.7M88.2 225.5h1.7M88.4 227.8h1.7M88.6 227.4h1.7M88.9 219.8h1.7M89.1 222.6h1.7M89.3 230.0h1.7M89.6 222.9h1.7M89.8 233.1h1.7M90.0 228.5h1.7M90.3 224.3h1.7M90.5 228.5h1.7M90.7 222.5h1.7M91.0 222.4h1.7M91.2 223.5h1.7M91.4 225.2h1.7M91.6 221.4h1.7M91.9 227.3h1.7M92.1 231.8h1.7M92.3 223.7h1.7M92.6 219.5h1.7M92.8 227.2h1.7M93.0 225.5h1.7M93.3 228.8h1.7M93.5 227.5h1.7M93.7 230.5h1.7M94.0 233.9h1.7M94.2 230.9h1.7M94.4 226.2h1.7M94.7 222.0h1.7M94.9 225.5h1.7M95.1 228.3h1.7M95.4 225.6h1.7M95.6 226.5h1.7M95.8 224.3h1.7M96.0 227.1h1.7M96.3 231.1h1.7M96.5 227.2h1.7M96.7 224.4h1.7M97.0 227.7h1.7M97.2 230.7h1.7M97.4 228.2h1.7M97.7 226.3h1.7M97.9 224.5h1.7M98.1 218.0h1.7M98.4 219.0h1.7M98.6 226.1h1.7M98.8 225.6h1.7M99.1 232.3h1.7M99.3 223.0h1.7M99.5 226.5h1.7M99.8 228.3h1.7M100.0 221.2h1.7M100.2 228.8h1.7M100.5 227.3h1.7M100.7 221.5h1.7M100.9 220.8h1.7M101.1 227.9h1.7M101.4 231.2h1.7M101.6 225.8h1.7M101.8 229.1h1.7M102.1 225.6h1.7M102.3 230.1h1.7M102.5 223.5h1.7M102.8 224.0h1.7M103.0 220.8h1.7M103.2 223.4h1.7M103.5 223.8h1.7M103.7 224.7h1.7M103.9 226.8h1.7M104.2 227.5h1.7M104.4 223.8h1.7M104.6 225.1h1.7M104.8 230.3h1.7M105.1 228.3h1.7M105.3 224.1h1.7M105.5 225.3h1.7M105.8 222.9h1.7M106.0 228.6h1.7M106.2 229.1h1.7M106.5 222.4h1.7M106.7 227.4h1.7M106.9 226.1h1.7M107.2 223.2h1.7M107.4 225.7h1.7M107.6 228.0h1.7M107.9 229.4h1.7M108.1 225.5h1.7M108.3 227.2h1.7M108.6 224.6h1.7M108.8 221.3h1.7M109.0 228.3h1.7M109.2 226.8h1.7M109.5 222.1h1.7M109.7 219.1h1.7M109.9 230.4h1.7M110.2 220.7h1.7M110.4 219.7h1.7M110.6 228.4h1.7M110.9 222.1h1.7M111.1 231.2h1.7M111.3 224.5h1.7M111.6 220.0h1.7M111.8 223.7h1.7M112.0 219.8h1.7M112.3 223.3h1.7M112.5 226.1h1.7M112.7 232.4h1.7M113.0 229.2h1.7M113.2 225.4h1.7M113.4 230.4h1.7M113.7 226.3h1.7M113.9 228.6h1.7M114.1 224.0h1.7M114.3 221.3h1.7M114.6 227.5h1.7M114.8 225.7h1.7M115.0 222.6h1.7M115.3 221.2h1.7M115.5 224.2h1.7M115.7 222.9h1.7M116.0 223.7h1.7M116.2 227.3h1.7M116.4 228.7h1.7M116.7 220.8h1.7M116.9 223.5h1.7M117.1 219.9h1.7M117.4 222.9h1.7M117.6 227.3h1.7M117.8 220.3h1.7M118.0 226.0h1.7M118.3 230.5h1.7M118.5 225.3h1.7M118.7 223.3h1.7M119.0 230.9h1.7M119.2 223.9h1.7M119.4 229.8h1.7M119.7 228.4h1.7M119.9 222.0h1.7M120.1 216.5h1.7M120.4 226.5h1.7M120.6 226.7h1.7M120.8 225.1h1.7M121.1 225.9h1.7M121.3 224.3h1.7M121.5 231.0h1.7M121.8 226.3h1.7M122.0 228.3h1.7M122.2 225.1h1.7M122.5 230.0h1.7M122.7 224.3h1.7M122.9 224.7h1.7M123.1 226.0h1.7M123.4 224.9h1.7M123.6 228.4h1.7M123.8 231.0h1.7M124.1 226.8h1.7M124.3 227.8h1.7M124.5 222.5h1.7M124.8 225.3h1.7M125.0 227.8h1.7M125.2 228.1h1.7M125.5 224.0h1.7M125.7 221.0h1.7M125.9 224.2h1.7M126.2 222.3h1.7M126.4 228.5h1.7M126.6 220.5h1.7M126.8 225.3h1.7M127.1 226.9h1.7M127.3 222.9h1.7M127.5 223.6h1.7M127.8 218.8h1.7M128.0 230.7h1.7M128.2 226.6h1.7M128.5 229.4h1.7M128.7 224.5h1.7M128.9 225.2h1.7M129.2 223.8h1.7M129.4 219.5h1.7M129.6 224.9h1.7M129.9 226.6h1.7M130.1 222.4h1.7M130.3 222.7h1.7M130.6 224.9h1.7M130.8 220.2h1.7M131.0 230.9h1.7M131.2 225.9h1.7M131.5 219.4h1.7M131.7 227.9h1.7M131.9 225.7h1.7M132.2 223.1h1.7M132.4 218.2h1.7M132.6 219.1h1.7M132.9 227.3h1.7M133.1 223.1h1.7M133.3 227.6h1.7M133.6 222.9h1.7M133.8 220.0h1.7M134.0 216.3h1.7M134.3 224.9h1.7M134.5 222.9h1.7M134.7 221.7h1.7M135.0 219.0h1.7M135.2 223.4h1.7M135.4 226.0h1.7M135.7 232.7h1.7M135.9 223.0h1.7M136.1 221.4h1.7M136.3 225.4h1.7M136.6 223.1h1.7M136.8 220.2h1.7M137.0 220.9h1.7M137.3 229.4h1.7M137.5 217.1h1.7M137.7 219.1h1.7M138.0 224.9h1.7M138.2 227.4h1.7M138.4 224.3h1.7M138.7 225.4h1.7M138.9 223.0h1.7M139.1 228.1h1.7M139.4 225.0h1.7M139.6 220.4h1.7M139.8 228.4h1.7M140.1 215.7h1.7M140.3 225.6h1.7M140.5 225.8h1.7M140.7 225.6h1.7M141.0 225.9h1.7M141.2 219.8h1.7M141.4 220.0h1.7M141.7 216.5h1.7M141.9 215.3h1.7M142.1 219.4h1.7M142.4 217.9h1.7M142.6 221.5h1.7M142.8 220.0h1.7M143.1 223.3h1.7M143.3 216.9h1.7M143.5 218.5h1.7M143.8 218.5h1.7M144.0 222.4h1.7M144.2 221.2h1.7M144.5 220.4h1.7M144.7 221.1h1.7M144.9 226.3h1.7M145.1 228.7h1.7M145.4 222.4h1.7M145.6 227.9h1.7M145.8 223.9h1.7M146.1 220.4h1.7M146.3 223.2h1.7M146.5 224.4h1.7M146.8 223.1h1.7M147.0 219.5h1.7M147.2 227.3h1.7M147.5 225.3h1.7M147.7 218.0h1.7M147.9 228.5h1.7M148.2 226.8h1.7M148.4 220.4h1.7M148.6 229.0h1.7M148.8 222.9h1.7M149.1 221.6h1.7M149.3 226.9h1.7M149.5 228.2h1.7M149.8 218.6h1.7M150.0 225.6h1.7M150.2 229.1h1.7M150.5 222.8h1.7M150.7 226.4h1.7M150.9 221.3h1.7M151.2 225.3h1.7M151.4 220.2h1.7M151.6 221.1h1.7M151.9 223.5h1.7M152.1 226.4h1.7M152.3 222.3h1.7M152.6 216.9h1.7M152.8 228.8h1.7M153.0 223.3h1.7M153.2 221.6h1.7M153.5 222.5h1.7M153.7 219.9h1.7M153.9 226.1h1.7M154.2 221.9h1.7M154.4 217.9h1.7M154.6 227.8h1.7M154.9 216.9h1.7M155.1 223.0h1.7M155.3 214.5h1.7M155.6 220.5h1.7M155.8 227.2h1.7M156.0 217.8h1.7M156.3 224.3h1.7M156.5 224.6h1.7M156.7 220.9h1.7M157.0 220.3h1.7M157.2 220.3h1.7M157.4 223.8h1.7M157.7 218.6h1.7M157.9 222.6h1.7M158.1 225.1h1.7M158.3 224.2h1.7M158.6 217.6h1.7M158.8 225.5h1.7M159.0 221.5h1.7M159.3 218.6h1.7M159.5 223.4h1.7M159.7 217.1h1.7M160.0 221.8h1.7M160.2 216.9h1.7M160.4 220.0h1.7M160.7 219.2h1.7M160.9 220.3h1.7M161.1 219.4h1.7M161.4 223.2h1.7M161.6 218.3h1.7M161.8 224.9h1.7M162.1 220.7h1.7M162.3 228.4h1.7M162.5 217.6h1.7M162.7 226.5h1.7M163.0 222.0h1.7M163.2 216.2h1.7M163.4 215.4h1.7M163.7 225.2h1.7M163.9 219.9h1.7M164.1 223.6h1.7M164.4 215.1h1.7M164.6 224.3h1.7M164.8 218.3h1.7M165.1 223.7h1.7M165.3 221.6h1.7M165.5 221.2h1.7M165.8 217.3h1.7M166.0 222.9h1.7M166.2 227.5h1.7M166.5 218.3h1.7M166.7 219.7h1.7M166.9 218.2h1.7M167.1 224.5h1.7M167.4 214.3h1.7M167.6 217.5h1.7M167.8 220.4h1.7M168.1 216.2h1.7M168.3 216.5h1.7M168.5 220.4h1.7M168.8 218.3h1.7M169.0 214.7h1.7M169.2 220.4h1.7M169.5 219.9h1.7M169.7 215.1h1.7M169.9 221.7h1.7M170.2 227.1h1.7M170.4 216.3h1.7M170.6 223.0h1.7M170.8 223.1h1.7M171.1 218.1h1.7M171.3 220.5h1.7M171.5 223.2h1.7M171.8 219.5h1.7M172.0 212.9h1.7M172.2 218.7h1.7M172.5 219.5h1.7M172.7 223.8h1.7M172.9 222.5h1.7M173.2 215.5h1.7M173.4 223.1h1.7M173.6 217.6h1.7M173.9 222.1h1.7M174.1 219.3h1.7M174.3 216.7h1.7M174.6 215.9h1.7M174.8 215.8h1.7M175.0 223.5h1.7M175.2 214.5h1.7M175.5 211.6h1.7M175.7 220.9h1.7M175.9 224.1h1.7M176.2 219.3h1.7M176.4 217.9h1.7M176.6 216.1h1.7M176.9 221.4h1.7M177.1 215.2h1.7M177.3 215.7h1.7M177.6 223.5h1.7M177.8 213.7h1.7M178.0 212.5h1.7M178.3 218.4h1.7M178.5 215.4h1.7M178.7 215.8h1.7M179.0 220.0h1.7M179.2 217.1h1.7M179.4 224.2h1.7M179.7 222.6h1.7M179.9 212.7h1.7M180.1 218.5h1.7M180.3 214.4h1.7M180.6 217.0h1.7M180.8 215.0h1.7M181.0 210.0h1.7M181.3 214.6h1.7M181.5 219.7h1.7M181.7 216.9h1.7M182.0 214.5h1.7M182.2 216.7h1.7M182.4 219.9h1.7M182.7 220.7h1.7M182.9 215.1h1.7M183.1 215.4h1.7M183.4 212.9h1.7M183.6 211.8h1.7M183.8 222.8h1.7M184.1 216.5h1.7M184.3 217.9h1.7M184.5 214.6h1.7M184.7 216.2h1.7M185.0 217.5h1.7M185.2 213.7h1.7M185.4 217.8h1.7M185.7 218.8h1.7M185.9 212.8h1.7M186.1 213.6h1.7M186.4 213.9h1.7M186.6 220.4h1.7M186.8 212.6h1.7M187.1 214.0h1.7M187.3 218.2h1.7M187.5 211.1h1.7M187.8 210.0h1.7M188.0 209.5h1.7M188.2 207.1h1.7M188.5 201.5h1.7M188.7 200.7h1.7M188.9 201.2h1.7M189.1 197.0h1.7M189.4 191.1h1.7M189.6 193.1h1.7M189.8 189.7h1.7M190.1 188.3h1.7M190.3 191.4h1.7M190.5 184.5h1.7M190.8 186.4h1.7M191.0 186.2h1.7M191.2 186.8h1.7M191.5 189.7h1.7M191.7 194.5h1.7M191.9 195.7h1.7M192.2 198.4h1.7M192.4 202.2h1.7M192.6 202.4h1.7M192.8 204.1h1.7M193.1 205.3h1.7M193.3 205.4h1.7M193.5 208.9h1.7M193.8 212.5h1.7M194.0 212.5h1.7M194.2 220.3h1.7M194.5 210.4h1.7M194.7 208.2h1.7M194.9 209.3h1.7M195.2 215.5h1.7M195.4 211.6h1.7M195.6 215.8h1.7M195.9 220.1h1.7M196.1 216.2h1.7M196.3 212.0h1.7M196.6 212.8h1.7M196.8 211.5h1.7M197.0 212.4h1.7M197.2 216.1h1.7M197.5 222.6h1.7M197.7 219.2h1.7M197.9 207.8h1.7M198.2 222.9h1.7M198.4 211.3h1.7M198.6 218.0h1.7M198.9 217.1h1.7M199.1 203.8h1.7M199.3 217.0h1.7M199.6 211.5h1.7M199.8 216.2h1.7M200.0 213.6h1.7M200.3 225.3h1.7M200.5 217.0h1.7M200.7 212.2h1.7M201.0 219.8h1.7M201.2 222.6h1.7M201.4 215.3h1.7M201.7 213.3h1.7M201.9 217.9h1.7M202.1 213.5h1.7M202.3 218.8h1.7M202.6 217.8h1.7M202.8 212.5h1.7M203.0 214.1h1.7M203.3 214.8h1.7M203.5 224.0h1.7M203.7 211.5h1.7M204.0 217.3h1.7M204.2 213.8h1.7M204.4 217.2h1.7M204.7 215.0h1.7M204.9 218.4h1.7M205.1 219.5h1.7M205.4 214.8h1.7M205.6 218.3h1.7M205.8 216.2h1.7M206.1 215.1h1.7M206.3 217.6h1.7M206.5 220.5h1.7M206.7 226.0h1.7M207.0 216.1h1.7M207.2 220.1h1.7M207.4 221.6h1.7M207.7 218.4h1.7M207.9 222.7h1.7M208.1 221.6h1.7M208.4 221.2h1.7M208.6 226.1h1.7M208.8 221.3h1.7M209.1 220.2h1.7M209.3 216.8h1.7M209.5 219.0h1.7M209.8 213.7h1.7M210.0 215.7h1.7M210.2 220.7h1.7M210.5 218.4h1.7M210.7 214.6h1.7M210.9 215.7h1.7M211.1 225.1h1.7M211.4 224.5h1.7M211.6 219.2h1.7M211.8 215.4h1.7M212.1 219.0h1.7M212.3 217.5h1.7M212.5 222.8h1.7M212.8 223.2h1.7M213.0 223.0h1.7M213.2 217.3h1.7M213.5 220.0h1.7M213.7 221.1h1.7M213.9 220.2h1.7M214.2 219.6h1.7M214.4 221.9h1.7M214.6 224.0h1.7M214.8 220.9h1.7M215.1 213.5h1.7M215.3 224.4h1.7M215.5 219.9h1.7M215.8 219.8h1.7M216.0 222.7h1.7M216.2 222.9h1.7M216.5 221.4h1.7M216.7 220.9h1.7M216.9 211.9h1.7M217.2 216.8h1.7M217.4 217.2h1.7M217.6 220.9h1.7M217.9 218.7h1.7M218.1 226.9h1.7M218.3 219.5h1.7M218.6 221.0h1.7M218.8 223.8h1.7M219.0 221.5h1.7M219.2 221.4h1.7M219.5 221.1h1.7M219.7 220.5h1.7M219.9 227.8h1.7M220.2 220.2h1.7M220.4 229.5h1.7M220.6 221.5h1.7M220.9 224.1h1.7M221.1 220.4h1.7M221.3 221.7h1.7M221.6 217.5h1.7M221.8 221.8h1.7M222.0 221.4h1.7M222.3 225.0h1.7M222.5 224.0h1.7M222.7 229.0h1.7M223.0 222.3h1.7M223.2 226.6h1.7M223.4 220.6h1.7M223.7 221.3h1.7M223.9 216.7h1.7M224.1 220.4h1.7M224.3 220.6h1.7M224.6 216.7h1.7M224.8 221.6h1.7M225.0 217.7h1.7M225.3 218.1h1.7M225.5 216.6h1.7M225.7 221.1h1.7M226.0 218.2h1.7M226.2 218.2h1.7M226.4 218.5h1.7M226.7 225.0h1.7M226.9 217.8h1.7M227.1 216.3h1.7M227.4 223.4h1.7M227.6 221.7h1.7M227.8 217.1h1.7M228.1 222.7h1.7M228.3 222.6h1.7M228.5 222.9h1.7M228.7 220.1h1.7M229.0 221.9h1.7M229.2 219.8h1.7M229.4 226.9h1.7M229.7 215.3h1.7M229.9 221.1h1.7M230.1 216.7h1.7M230.4 227.6h1.7M230.6 223.1h1.7M230.8 227.0h1.7M231.1 226.7h1.7M231.3 223.0h1.7M231.5 219.4h1.7M231.8 228.9h1.7M232.0 225.4h1.7M232.2 221.1h1.7M232.5 216.6h1.7M232.7 229.4h1.7M232.9 217.7h1.7M233.1 224.6h1.7M233.4 225.7h1.7M233.6 222.8h1.7M233.8 225.6h1.7M234.1 226.7h1.7M234.3 227.4h1.7M234.5 223.5h1.7M234.8 226.0h1.7M235.0 221.1h1.7M235.2 228.0h1.7M235.5 217.6h1.7M235.7 222.7h1.7M235.9 214.4h1.7M236.2 221.1h1.7M236.4 218.4h1.7M236.6 220.8h1.7M236.8 227.0h1.7M237.1 224.4h1.7M237.3 227.7h1.7M237.5 221.8h1.7M237.8 223.3h1.7M238.0 228.3h1.7M238.2 214.8h1.7M238.5 226.3h1.7M238.7 227.4h1.7M238.9 225.6h1.7M239.2 223.0h1.7M239.4 218.5h1.7M239.6 225.6h1.7M239.9 229.6h1.7M240.1 223.2h1.7M240.3 226.8h1.7M240.6 220.5h1.7M240.8 220.4h1.7M241.0 223.4h1.7M241.2 217.9h1.7M241.5 222.4h1.7M241.7 220.8h1.7M241.9 227.7h1.7M242.2 214.4h1.7M242.4 227.7h1.7M242.6 226.2h1.7M242.9 221.8h1.7M243.1 224.2h1.7M243.3 224.7h1.7M243.6 226.8h1.7M243.8 221.8h1.7M244.0 228.8h1.7M244.3 222.7h1.7M244.5 230.0h1.7M244.7 223.1h1.7M245.0 225.7h1.7M245.2 219.1h1.7M245.4 222.1h1.7M245.7 226.2h1.7M245.9 216.8h1.7M246.1 222.6h1.7M246.3 226.2h1.7M246.6 222.9h1.7M246.8 224.9h1.7M247.0 221.4h1.7M247.3 223.0h1.7M247.5 224.2h1.7M247.7 226.4h1.7M248.0 223.2h1.7M248.2 228.4h1.7M248.4 224.9h1.7M248.7 218.3h1.7M248.9 218.6h1.7M249.1 223.5h1.7M249.4 226.4h1.7M249.6 222.7h1.7M249.8 223.1h1.7M250.1 229.7h1.7M250.3 225.2h1.7M250.5 225.9h1.7M250.7 225.6h1.7M251.0 224.8h1.7M251.2 223.0h1.7M251.4 228.9h1.7M251.7 224.0h1.7M251.9 228.0h1.7M252.1 225.7h1.7M252.4 210.1h1.7M252.6 228.0h1.7M252.8 222.5h1.7M253.1 223.5h1.7M253.3 226.2h1.7M253.5 222.1h1.7M253.8 227.6h1.7M254.0 231.3h1.7M254.2 225.8h1.7M254.5 224.6h1.7M254.7 225.2h1.7M254.9 225.2h1.7M255.1 228.9h1.7M255.4 221.2h1.7M255.6 224.0h1.7M255.8 224.5h1.7M256.1 223.3h1.7M256.3 229.7h1.7M256.5 225.7h1.7M256.8 228.3h1.7M257.0 224.2h1.7M257.2 222.7h1.7M257.5 225.7h1.7M257.7 220.3h1.7M257.9 224.1h1.7M258.2 226.7h1.7M258.4 236.9h1.7M258.6 223.4h1.7M258.8 225.0h1.7M259.1 223.6h1.7M259.3 224.6h1.7M259.5 222.7h1.7M259.8 225.9h1.7M260.0 220.6h1.7M260.2 221.4h1.7M260.5 225.8h1.7M260.7 225.7h1.7M260.9 224.9h1.7M261.2 229.7h1.7M261.4 226.3h1.7M261.6 226.7h1.7M261.9 224.2h1.7M262.1 229.8h1.7M262.3 227.8h1.7M262.6 226.8h1.7M262.8 228.1h1.7M263.0 222.8h1.7M263.2 227.0h1.7M263.5 227.3h1.7M263.7 230.0h1.7M263.9 228.7h1.7M264.2 225.8h1.7M264.4 230.5h1.7M264.6 224.6h1.7M264.9 230.0h1.7M265.1 225.9h1.7M265.3 229.0h1.7M265.6 225.7h1.7M265.8 218.8h1.7M266.0 229.9h1.7M266.3 226.3h1.7M266.5 227.1h1.7M266.7 228.6h1.7M267.0 223.9h1.7M267.2 222.9h1.7M267.4 227.2h1.7M267.6 226.6h1.7M267.9 220.8h1.7M268.1 224.8h1.7M268.3 233.3h1.7M268.6 228.5h1.7M268.8 226.6h1.7M269.0 221.9h1.7M269.3 222.5h1.7M269.5 225.8h1.7M269.7 229.9h1.7M270.0 226.1h1.7M270.2 225.1h1.7M270.4 225.4h1.7M270.7 224.2h1.7M270.9 232.3h1.7M271.1 217.3h1.7M271.4 220.4h1.7M271.6 223.0h1.7M271.8 221.1h1.7M272.0 229.9h1.7M272.3 231.0h1.7M272.5 224.7h1.7M272.7 229.0h1.7M273.0 225.6h1.7M273.2 234.2h1.7M273.4 229.1h1.7M273.7 222.3h1.7M273.9 223.1h1.7M274.1 219.8h1.7M274.4 228.8h1.7M274.6 230.3h1.7M274.8 219.6h1.7M275.1 222.7h1.7M275.3 227.5h1.7M275.5 225.9h1.7M275.8 221.6h1.7M276.0 226.5h1.7M276.2 228.5h1.7M276.4 221.4h1.7M276.7 226.6h1.7M276.9 222.4h1.7M277.1 223.8h1.7M277.4 221.1h1.7M277.6 216.7h1.7M277.8 225.7h1.7M278.1 229.1h1.7M278.3 216.5h1.7M278.5 227.5h1.7M278.8 230.8h1.7M279.0 228.3h1.7M279.2 226.4h1.7M279.5 228.7h1.7M279.7 219.7h1.7M279.9 227.2h1.7M280.2 230.1h1.7M280.4 222.3h1.7M280.6 218.4h1.7M280.8 226.4h1.7M281.1 224.4h1.7M281.3 228.5h1.7M281.5 230.8h1.7M281.8 229.8h1.7M282.0 232.0h1.7M282.2 227.8h1.7M282.5 226.9h1.7M282.7 222.3h1.7M282.9 230.0h1.7M283.2 225.2h1.7M283.4 227.1h1.7M283.6 230.3h1.7M283.9 227.1h1.7M284.1 227.8h1.7M284.3 229.1h1.7M284.6 223.4h1.7M284.8 226.8h1.7M285.0 227.1h1.7M285.2 225.2h1.7M285.5 226.0h1.7M285.7 229.6h1.7M285.9 219.8h1.7M286.2 218.2h1.7M286.4 227.8h1.7M286.6 230.6h1.7M286.9 224.1h1.7M287.1 221.5h1.7M287.3 225.4h1.7M287.6 223.2h1.7M287.8 222.8h1.7M288.0 235.7h1.7M288.3 224.7h1.7M288.5 222.1h1.7M288.7 224.6h1.7M289.0 225.7h1.7M289.2 235.7h1.7M289.4 221.0h1.7M289.6 228.2h1.7M289.9 224.6h1.7M290.1 231.0h1.7M290.3 228.0h1.7M290.6 223.7h1.7M290.8 216.0h1.7M291.0 222.0h1.7M291.3 223.2h1.7M291.5 227.4h1.7M291.7 231.3h1.7M292.0 227.4h1.7M292.2 223.6h1.7M292.4 227.1h1.7M292.7 225.1h1.7M292.9 224.8h1.7M293.1 227.5h1.7M293.4 225.9h1.7M293.6 225.6h1.7M293.8 227.1h1.7M294.0 226.6h1.7M294.3 222.7h1.7M294.5 229.6h1.7M294.7 224.6h1.7M295.0 224.2h1.7M295.2 227.1h1.7M295.4 224.3h1.7M295.7 227.9h1.7M295.9 229.5h1.7M296.1 229.3h1.7M296.4 225.2h1.7M296.6 228.2h1.7M296.8 229.6h1.7M297.1 230.8h1.7M297.3 225.2h1.7M297.5 227.8h1.7M297.8 225.8h1.7M298.0 225.5h1.7M298.2 224.4h1.7M298.4 224.3h1.7M298.7 227.9h1.7M298.9 223.1h1.7M299.1 222.2h1.7M299.4 224.5h1.7M299.6 231.4h1.7M299.8 228.6h1.7M300.1 229.7h1.7M300.3 223.2h1.7M300.5 227.6h1.7" stroke="#898989" stroke-width="1.7" fill="none"/>
<polyline clip-path="url(#c3)" points="81.50,226.92 82.60,226.90 83.70,226.89 84.80,226.87 85.90,226.86 87.00,226.84 88.10,226.83 89.20,226.81 90.30,226.79 91.40,226.77 92.50,226.76 93.60,226.74 94.70,226.72 95.80,226.69 96.90,226.67 98.00,226.65 99.10,226.63 100.20,226.60 101.30,226.58 102.40,226.55 103.50,226.52 104.60,226.49 105.70,226.46 106.80,226.43 107.90,226.40 109.00,226.37 110.10,226.33 111.20,226.30 112.30,226.26 113.40,226.22 114.50,226.18 115.60,226.14 116.70,226.10 117.80,226.06 118.90,226.01 120.00,225.96 121.10,225.91 122.20,225.86 123.30,225.81 124.40,225.75 125.50,225.69 126.60,225.63 127.70,225.57 128.80,225.51 129.90,225.44 131.00,225.37 132.10,225.30 133.20,225.23 134.30,225.15 135.40,225.07 136.50,224.99 137.60,224.90 138.70,224.81 139.80,224.72 140.90,224.62 142.00,224.52 143.10,224.42 144.20,224.31 145.30,224.20 146.40,224.08 147.50,223.96 148.60,223.83 149.70,223.70 150.80,223.57 151.90,223.43 153.00,223.28 154.10,223.13 155.20,222.98 156.30,222.81 157.40,222.65 158.50,222.47 159.60,222.29 160.70,222.10 161.80,221.91 162.90,221.70 164.00,221.49 165.10,221.28 166.20,221.05 167.30,220.81 168.40,220.57 169.50,220.32 170.60,220.06 171.70,219.78 172.80,219.50 173.90,219.21 175.00,218.90 176.10,218.59 177.20,218.26 178.30,217.92 179.40,217.56 180.50,217.20 181.60,216.82 182.70,216.42 183.80,216.01 184.90,215.59 186.00,215.12 186.11,215.06 186.22,215.01 186.33,214.95 186.44,214.88 186.55,214.81 186.66,214.74 186.77,214.66 186.88,214.56 186.99,214.46 187.10,214.35 187.21,214.22 187.32,214.08 187.43,213.91 187.54,213.73 187.65,213.52 187.76,213.27 187.87,213.00 187.98,212.69 188.09,212.35 188.20,211.95 188.31,211.51 188.42,211.02 188.53,210.48 188.64,209.88 188.75,209.21 188.86,208.49 188.97,207.70 189.08,206.86 189.19,205.95 189.30,204.98 189.41,203.96 189.52,202.89 189.63,201.77 189.74,200.62 189.85,199.44 189.96,198.24 190.07,197.04 190.18,195.85 190.29,194.68 190.40,193.54 190.51,192.45 190.62,191.43 190.73,190.48 190.84,189.62 190.95,188.86 191.06,188.21 191.17,187.69 191.28,187.29 191.39,187.03 191.50,186.91 191.61,187.03 191.72,187.29 191.83,187.69 191.94,188.21 192.05,188.86 192.16,189.62 192.27,190.48 192.38,191.43 192.49,192.45 192.60,193.54 192.71,194.68 192.82,195.85 192.93,197.04 193.04,198.24 193.15,199.44 193.26,200.62 193.37,201.77 193.48,202.89 193.59,203.96 193.70,204.98 193.81,205.95 193.92,206.86 194.03,207.70 194.14,208.49 194.25,209.21 194.36,209.88 194.47,210.48 194.58,211.02 194.69,211.51 194.80,211.95 194.91,212.35 195.02,212.69 195.13,213.00 195.24,213.27 195.35,213.52 195.46,213.73 195.57,213.91 195.68,214.08 195.79,214.22 195.90,214.35 196.01,214.46 196.12,214.56 196.23,214.66 196.34,214.74 196.45,214.81 196.56,214.88 196.67,214.95 196.78,215.01 196.89,215.06 197.00,215.12 197.11,215.17 197.22,215.22 197.33,215.27 197.44,215.32 197.55,215.36 197.66,215.41 197.77,215.45 197.88,215.50 197.99,215.54 198.10,215.59 199.20,216.01 200.30,216.42 201.40,216.82 202.50,217.20 203.60,217.56 204.70,217.92 205.80,218.26 206.90,218.59 208.00,218.90 209.10,219.21 210.20,219.50 211.30,219.78 212.40,220.06 213.50,220.32 214.60,220.57 215.70,220.81 216.80,221.05 217.90,221.28 219.00,221.49 220.10,221.70 221.20,221.91 222.30,222.10 223.40,222.29 224.50,222.47 225.60,222.65 226.70,222.81 227.80,222.98 228.90,223.13 230.00,223.28 231.10,223.43 232.20,223.57 233.30,223.70 234.40,223.83 235.50,223.96 236.60,224.08 237.70,224.20 238.80,224.31 239.90,224.42 241.00,224.52 242.10,224.62 243.20,224.72 244.30,224.81 245.40,224.90 246.50,224.99 247.60,225.07 248.70,225.15 249.80,225.23 250.90,225.30 252.00,225.37 253.10,225.44 254.20,225.51 255.30,225.57 256.40,225.63 257.50,225.69 258.60,225.75 259.70,225.81 260.80,225.86 261.90,225.91 263.00,225.96 264.10,226.01 265.20,226.06 266.30,226.10 267.40,226.14 268.50,226.18 269.60,226.22 270.70,226.26 271.80,226.30 272.90,226.33 274.00,226.37 275.10,226.40 276.20,226.43 277.30,226.46 278.40,226.49 279.50,226.52 280.60,226.55 281.70,226.58 282.80,226.60 283.90,226.63 285.00,226.65 286.10,226.67 287.20,226.69 288.30,226.72 289.40,226.74 290.50,226.76 291.60,226.77 292.70,226.79 293.80,226.81 294.90,226.83 296.00,226.84 297.10,226.86 298.20,226.87 299.30,226.89 300.40,226.90 301.50,226.92" stroke="#cc1414" stroke-width="0.95" fill="none" stroke-linejoin="round"/>
<text x="78.7" y="196.49" font-family="Liberation Serif, serif" stroke="#000" stroke-width="0.12" font-size="13.5" text-anchor="end" textLength="16" lengthAdjust="spacingAndGlyphs">0.5</text>
<text x="78.7" y="231.89" font-family="Liberation Serif, serif" stroke="#000" stroke-width="0.12" font-size="13.5" text-anchor="end" textLength="16" lengthAdjust="spacingAndGlyphs">0.0</text>
<text x="93.3" y="203.05" font-family="Liberation Serif, serif" font-size="11" stroke="#000" stroke-width="0.2" textLength="5.6" lengthAdjust="spacingAndGlyphs">T</text>
<text x="98.5" y="205.45" font-family="Liberation Serif, serif" font-size="8.8" stroke="#000" stroke-width="0.15">L</text>
<text x="106" y="203.05" font-family="Liberation Serif, serif" font-size="11" stroke="#000" stroke-width="0.2" textLength="38.0" lengthAdjust="spacingAndGlyphs">= 26.6 ns</text>
<clipPath id="c4"><rect x="81.5" y="234.32" width="220.0" height="53.22999999999996"/></clipPath>
<path d="M81.5 245.12h5.3M301.5 245.12h-5.3" stroke="#000" stroke-width="1.05"/>
<path d="M81.5 280.71999999999997h5.3M301.5 280.71999999999997h-5.3" stroke="#000" stroke-width="1.05"/>
<path d="M125.5 234.32v3M125.5 287.54999999999995v-3" stroke="#000" stroke-width="1.05"/>
<path d="M191.5 234.32v3M191.5 287.54999999999995v-3" stroke="#000" stroke-width="1.05"/>
<path d="M257.5 234.32v3M257.5 287.54999999999995v-3" stroke="#000" stroke-width="1.05"/>
<path clip-path="url(#c4)" d="M80.8 277.8h1.7M81.0 285.9h1.7M81.2 281.6h1.7M81.5 279.1h1.7M81.7 280.5h1.7M81.9 282.8h1.7M82.2 272.8h1.7M82.4 276.9h1.7M82.6 271.8h1.7M82.8 282.5h1.7M83.1 282.1h1.7M83.3 276.1h1.7M83.5 275.3h1.7M83.8 275.6h1.7M84.0 282.2h1.7M84.2 281.3h1.7M84.5 280.1h1.7M84.7 281.5h1.7M84.9 282.4h1.7M85.2 283.1h1.7M85.4 278.4h1.7M85.6 277.5h1.7M85.9 275.9h1.7M86.1 279.3h1.7M86.3 279.4h1.7M86.6 280.5h1.7M86.8 278.7h1.7M87.0 282.2h1.7M87.2 275.8h1.7M87.5 271.6h1.7M87.7 276.7h1.7M87.9 279.2h1.7M88.2 276.4h1.7M88.4 282.2h1.7M88.6 275.3h1.7M88.9 273.0h1.7M89.1 277.4h1.7M89.3 277.9h1.7M89.6 278.5h1.7M89.8 286.9h1.7M90.0 285.7h1.7M90.3 269.7h1.7M90.5 277.8h1.7M90.7 272.1h1.7M91.0 276.8h1.7M91.2 279.7h1.7M91.4 277.8h1.7M91.6 279.2h1.7M91.9 280.6h1.7M92.1 280.6h1.7M92.3 287.0h1.7M92.6 284.5h1.7M92.8 274.0h1.7M93.0 280.7h1.7M93.3 280.1h1.7M93.5 275.4h1.7M93.7 279.5h1.7M94.0 275.0h1.7M94.2 283.9h1.7M94.4 277.0h1.7M94.7 283.4h1.7M94.9 277.8h1.7M95.1 278.3h1.7M95.4 277.6h1.7M95.6 279.7h1.7M95.8 274.4h1.7M96.0 273.9h1.7M96.3 282.1h1.7M96.5 280.9h1.7M96.7 282.2h1.7M97.0 279.3h1.7M97.2 274.2h1.7M97.4 274.8h1.7M97.7 281.5h1.7M97.9 279.2h1.7M98.1 285.4h1.7M98.4 280.1h1.7M98.6 278.3h1.7M98.8 284.7h1.7M99.1 277.0h1.7M99.3 275.3h1.7M99.5 281.1h1.7M99.8 277.3h1.7M100.0 280.4h1.7M100.2 277.0h1.7M100.5 281.6h1.7M100.7 270.8h1.7M100.9 278.9h1.7M101.1 275.1h1.7M101.4 277.6h1.7M101.6 276.2h1.7M101.8 275.4h1.7M102.1 277.4h1.7M102.3 280.8h1.7M102.5 270.9h1.7M102.8 279.5h1.7M103.0 279.1h1.7M103.2 274.3h1.7M103.5 275.7h1.7M103.7 283.9h1.7M103.9 283.2h1.7M104.2 275.8h1.7M104.4 269.9h1.7M104.6 276.6h1.7M104.8 274.8h1.7M105.1 281.3h1.7M105.3 278.8h1.7M105.5 273.1h1.7M105.8 283.1h1.7M106.0 278.9h1.7M106.2 276.3h1.7M106.5 275.3h1.7M106.7 276.0h1.7M106.9 274.8h1.7M107.2 277.7h1.7M107.4 277.1h1.7M107.6 275.5h1.7M107.9 281.1h1.7M108.1 277.2h1.7M108.3 271.1h1.7M108.6 279.3h1.7M108.8 274.2h1.7M109.0 280.6h1.7M109.2 278.9h1.7M109.5 275.5h1.7M109.7 280.5h1.7M109.9 272.3h1.7M110.2 271.8h1.7M110.4 274.1h1.7M110.6 277.3h1.7M110.9 272.2h1.7M111.1 279.4h1.7M111.3 278.7h1.7M111.6 272.6h1.7M111.8 277.1h1.7M112.0 279.6h1.7M112.3 274.1h1.7M112.5 273.8h1.7M112.7 275.7h1.7M113.0 277.7h1.7M113.2 275.1h1.7M113.4 282.3h1.7M113.7 272.0h1.7M113.9 278.0h1.7M114.1 277.7h1.7M114.3 274.2h1.7M114.6 274.7h1.7M114.8 279.4h1.7M115.0 266.2h1.7M115.3 284.2h1.7M115.5 279.1h1.7M115.7 282.6h1.7M116.0 279.7h1.7M116.2 278.9h1.7M116.4 281.0h1.7M116.7 268.4h1.7M116.9 277.7h1.7M117.1 279.1h1.7M117.4 280.5h1.7M117.6 276.7h1.7M117.8 274.6h1.7M118.0 279.0h1.7M118.3 282.4h1.7M118.5 277.5h1.7M118.7 277.6h1.7M119.0 271.5h1.7M119.2 269.4h1.7M119.4 275.3h1.7M119.7 283.2h1.7M119.9 274.0h1.7M120.1 278.6h1.7M120.4 282.3h1.7M120.6 278.4h1.7M120.8 275.4h1.7M121.1 277.1h1.7M121.3 268.1h1.7M121.5 277.8h1.7M121.8 276.3h1.7M122.0 282.5h1.7M122.2 278.2h1.7M122.5 280.0h1.7M122.7 277.3h1.7M122.9 281.5h1.7M123.1 277.4h1.7M123.4 278.7h1.7M123.6 276.3h1.7M123.8 276.9h1.7M124.1 283.2h1.7M124.3 271.9h1.7M124.5 277.1h1.7M124.8 277.4h1.7M125.0 267.9h1.7M125.2 278.9h1.7M125.5 272.0h1.7M125.7 272.3h1.7M125.9 266.9h1.7M126.2 275.7h1.7M126.4 278.1h1.7M126.6 269.5h1.7M126.8 279.5h1.7M127.1 276.3h1.7M127.3 280.9h1.7M127.5 275.4h1.7M127.8 277.2h1.7M128.0 273.8h1.7M128.2 271.9h1.7M128.5 283.0h1.7M128.7 270.7h1.7M128.9 280.5h1.7M129.2 276.9h1.7M129.4 275.2h1.7M129.6 273.7h1.7M129.9 276.2h1.7M130.1 275.4h1.7M130.3 274.9h1.7M130.6 275.2h1.7M130.8 275.2h1.7M131.0 270.1h1.7M131.2 274.6h1.7M131.5 278.3h1.7M131.7 267.1h1.7M131.9 277.0h1.7M132.2 276.2h1.7M132.4 277.3h1.7M132.6 273.0h1.7M132.9 272.0h1.7M133.1 278.6h1.7M133.3 275.8h1.7M133.6 272.4h1.7M133.8 271.4h1.7M134.0 280.2h1.7M134.3 282.0h1.7M134.5 275.8h1.7M134.7 278.2h1.7M135.0 283.1h1.7M135.2 276.9h1.7M135.4 280.7h1.7M135.7 276.2h1.7M135.9 281.4h1.7M136.1 276.2h1.7M136.3 274.7h1.7M136.6 281.1h1.7M136.8 277.1h1.7M137.0 272.8h1.7M137.3 270.0h1.7M137.5 275.9h1.7M137.7 273.9h1.7M138.0 276.7h1.7M138.2 280.9h1.7M138.4 270.5h1.7M138.7 271.7h1.7M138.9 270.6h1.7M139.1 281.2h1.7M139.4 274.3h1.7M139.6 275.4h1.7M139.8 276.6h1.7M140.1 272.4h1.7M140.3 277.4h1.7M140.5 275.2h1.7M140.7 275.4h1.7M141.0 266.3h1.7M141.2 280.5h1.7M141.4 276.2h1.7M141.7 272.7h1.7M141.9 270.3h1.7M142.1 275.5h1.7M142.4 271.6h1.7M142.6 267.8h1.7M142.8 269.4h1.7M143.1 276.3h1.7M143.3 271.2h1.7M143.5 276.6h1.7M143.8 275.6h1.7M144.0 269.6h1.7M144.2 278.1h1.7M144.5 274.0h1.7M144.7 273.4h1.7M144.9 269.9h1.7M145.1 271.4h1.7M145.4 275.5h1.7M145.6 274.1h1.7M145.8 281.0h1.7M146.1 275.2h1.7M146.3 273.2h1.7M146.5 268.1h1.7M146.8 275.0h1.7M147.0 275.8h1.7M147.2 274.3h1.7M147.5 280.4h1.7M147.7 269.8h1.7M147.9 268.5h1.7M148.2 281.1h1.7M148.4 279.8h1.7M148.6 275.2h1.7M148.8 280.7h1.7M149.1 270.9h1.7M149.3 275.6h1.7M149.5 276.5h1.7M149.8 272.9h1.7M150.0 271.5h1.7M150.2 277.0h1.7M150.5 280.2h1.7M150.7 274.9h1.7M150.9 269.9h1.7M151.2 266.4h1.7M151.4 275.3h1.7M151.6 272.8h1.7M151.9 270.2h1.7M152.1 277.5h1.7M152.3 274.1h1.7M152.6 276.0h1.7M152.8 276.0h1.7M153.0 275.4h1.7M153.2 274.8h1.7M153.5 279.2h1.7M153.7 273.4h1.7M153.9 279.0h1.7M154.2 273.8h1.7M154.4 274.5h1.7M154.6 270.5h1.7M154.9 272.2h1.7M155.1 270.0h1.7M155.3 271.8h1.7M155.6 267.2h1.7M155.8 279.0h1.7M156.0 272.1h1.7M156.3 271.7h1.7M156.5 269.4h1.7M156.7 275.3h1.7M157.0 273.6h1.7M157.2 268.3h1.7M157.4 268.7h1.7M157.7 274.8h1.7M157.9 264.3h1.7M158.1 270.0h1.7M158.3 270.0h1.7M158.6 271.1h1.7M158.8 270.3h1.7M159.0 281.8h1.7M159.3 276.1h1.7M159.5 276.4h1.7M159.7 274.0h1.7M160.0 275.3h1.7M160.2 274.8h1.7M160.4 276.4h1.7M160.7 269.8h1.7M160.9 269.4h1.7M161.1 273.2h1.7M161.4 270.7h1.7M161.6 278.2h1.7M161.8 265.7h1.7M162.1 272.0h1.7M162.3 270.7h1.7M162.5 265.5h1.7M162.7 271.7h1.7M163.0 268.0h1.7M163.2 274.2h1.7M163.4 276.5h1.7M163.7 271.6h1.7M163.9 277.6h1.7M164.1 268.7h1.7M164.4 270.3h1.7M164.6 270.4h1.7M164.8 268.2h1.7M165.1 268.5h1.7M165.3 280.5h1.7M165.5 275.7h1.7M165.8 269.8h1.7M166.0 270.0h1.7M166.2 276.8h1.7M166.5 266.6h1.7M166.7 267.6h1.7M166.9 275.4h1.7M167.1 274.8h1.7M167.4 270.6h1.7M167.6 274.3h1.7M167.8 281.6h1.7M168.1 274.5h1.7M168.3 263.2h1.7M168.5 274.1h1.7M168.8 269.7h1.7M169.0 265.7h1.7M169.2 267.2h1.7M169.5 273.9h1.7M169.7 265.4h1.7M169.9 267.3h1.7M170.2 262.4h1.7M170.4 272.5h1.7M170.6 270.9h1.7M170.8 270.3h1.7M171.1 265.1h1.7M171.3 275.8h1.7M171.5 271.6h1.7M171.8 270.9h1.7M172.0 276.9h1.7M172.2 261.3h1.7M172.5 268.6h1.7M172.7 276.8h1.7M172.9 269.9h1.7M173.2 267.7h1.7M173.4 270.6h1.7M173.6 267.5h1.7M173.9 272.3h1.7M174.1 270.6h1.7M174.3 274.9h1.7M174.6 268.3h1.7M174.8 269.9h1.7M175.0 268.7h1.7M175.2 268.3h1.7M175.5 269.8h1.7M175.7 270.7h1.7M175.9 269.4h1.7M176.2 271.6h1.7M176.4 262.6h1.7M176.6 272.6h1.7M176.9 269.9h1.7M177.1 270.5h1.7M177.3 274.7h1.7M177.6 262.5h1.7M177.8 266.6h1.7M178.0 260.3h1.7M178.3 272.2h1.7M178.5 268.0h1.7M178.7 265.0h1.7M179.0 269.0h1.7M179.2 273.9h1.7M179.4 268.5h1.7M179.7 269.9h1.7M179.9 269.5h1.7M180.1 273.2h1.7M180.3 264.8h1.7M180.6 270.5h1.7M180.8 268.2h1.7M181.0 272.3h1.7M181.3 261.7h1.7M181.5 266.0h1.7M181.7 264.4h1.7M182.0 270.5h1.7M182.2 268.7h1.7M182.4 267.5h1.7M182.7 265.6h1.7M182.9 265.6h1.7M183.1 265.2h1.7M183.4 272.1h1.7M183.6 272.2h1.7M183.8 267.0h1.7M184.1 267.2h1.7M184.3 275.7h1.7M184.5 268.3h1.7M184.7 267.9h1.7M185.0 273.8h1.7M185.2 258.0h1.7M185.4 267.7h1.7M185.7 274.9h1.7M185.9 270.5h1.7M186.1 266.6h1.7M186.4 269.9h1.7M186.6 271.1h1.7M186.8 271.1h1.7M187.1 266.0h1.7M187.3 261.4h1.7M187.5 265.5h1.7M187.8 263.9h1.7M188.0 262.4h1.7M188.2 260.2h1.7M188.5 259.0h1.7M188.7 259.2h1.7M188.9 254.5h1.7M189.1 252.5h1.7M189.4 251.5h1.7M189.6 247.2h1.7M189.8 240.2h1.7M190.1 241.4h1.7M190.3 241.6h1.7M190.5 237.5h1.7M190.8 238.6h1.7M191.0 241.3h1.7M191.2 239.7h1.7M191.5 244.8h1.7M191.7 248.8h1.7M191.9 251.3h1.7M192.2 250.8h1.7M192.4 255.5h1.7M192.6 254.9h1.7M192.8 261.2h1.7M193.1 260.7h1.7M193.3 263.9h1.7M193.5 262.4h1.7M193.8 266.4h1.7M194.0 267.8h1.7M194.2 269.1h1.7M194.5 262.5h1.7M194.7 267.9h1.7M194.9 263.0h1.7M195.2 267.7h1.7M195.4 272.9h1.7M195.6 274.0h1.7M195.9 267.5h1.7M196.1 266.7h1.7M196.3 268.2h1.7M196.6 271.8h1.7M196.8 271.8h1.7M197.0 268.4h1.7M197.2 269.3h1.7M197.5 269.4h1.7M197.7 269.2h1.7M197.9 265.8h1.7M198.2 259.1h1.7M198.4 272.0h1.7M198.6 267.0h1.7M198.9 265.5h1.7M199.1 266.8h1.7M199.3 266.7h1.7M199.6 267.1h1.7M199.8 272.9h1.7M200.0 264.8h1.7M200.3 273.7h1.7M200.5 266.8h1.7M200.7 263.8h1.7M201.0 274.3h1.7M201.2 264.9h1.7M201.4 272.0h1.7M201.7 270.0h1.7M201.9 265.1h1.7M202.1 271.0h1.7M202.3 282.3h1.7M202.6 272.8h1.7M202.8 264.0h1.7M203.0 267.7h1.7M203.3 258.1h1.7M203.5 272.1h1.7M203.7 264.7h1.7M204.0 267.8h1.7M204.2 272.9h1.7M204.4 264.2h1.7M204.7 271.3h1.7M204.9 262.5h1.7M205.1 274.5h1.7M205.4 266.0h1.7M205.6 266.5h1.7M205.8 270.5h1.7M206.1 267.1h1.7M206.3 270.2h1.7M206.5 272.5h1.7M206.7 274.2h1.7M207.0 270.4h1.7M207.2 274.7h1.7M207.4 274.8h1.7M207.7 270.6h1.7M207.9 271.1h1.7M208.1 274.1h1.7M208.4 272.5h1.7M208.6 274.0h1.7M208.8 270.4h1.7M209.1 274.5h1.7M209.3 271.8h1.7M209.5 271.7h1.7M209.8 264.3h1.7M210.0 268.3h1.7M210.2 272.2h1.7M210.5 276.9h1.7M210.7 266.2h1.7M210.9 266.7h1.7M211.1 270.6h1.7M211.4 267.4h1.7M211.6 275.4h1.7M211.8 271.3h1.7M212.1 263.9h1.7M212.3 272.8h1.7M212.5 275.2h1.7M212.8 268.5h1.7M213.0 273.4h1.7M213.2 266.7h1.7M213.5 277.0h1.7M213.7 271.7h1.7M213.9 264.4h1.7M214.2 271.7h1.7M214.4 268.4h1.7M214.6 278.6h1.7M214.8 276.5h1.7M215.1 268.5h1.7M215.3 275.1h1.7M215.5 270.6h1.7M215.8 271.5h1.7M216.0 273.3h1.7M216.2 277.1h1.7M216.5 274.2h1.7M216.7 269.9h1.7M216.9 274.9h1.7M217.2 272.5h1.7M217.4 265.5h1.7M217.6 271.9h1.7M217.9 275.5h1.7M218.1 269.0h1.7M218.3 273.9h1.7M218.6 270.2h1.7M218.8 273.0h1.7M219.0 275.7h1.7M219.2 276.6h1.7M219.5 274.6h1.7M219.7 271.2h1.7M219.9 273.9h1.7M220.2 266.6h1.7M220.4 274.0h1.7M220.6 275.6h1.7M220.9 272.1h1.7M221.1 274.7h1.7M221.3 273.1h1.7M221.6 272.2h1.7M221.8 281.5h1.7M222.0 274.7h1.7M222.3 276.8h1.7M222.5 269.6h1.7M222.7 272.7h1.7M223.0 272.5h1.7M223.2 272.6h1.7M223.4 266.7h1.7M223.7 275.9h1.7M223.9 274.5h1.7M224.1 272.9h1.7M224.3 267.9h1.7M224.6 279.0h1.7M224.8 277.3h1.7M225.0 275.8h1.7M225.3 279.1h1.7M225.5 269.6h1.7M225.7 277.7h1.7M226.0 282.1h1.7M226.2 275.8h1.7M226.4 272.4h1.7M226.7 272.3h1.7M226.9 270.1h1.7M227.1 273.7h1.7M227.4 275.7h1.7M227.6 277.2h1.7M227.8 278.3h1.7M228.1 275.1h1.7M228.3 271.1h1.7M228.5 273.2h1.7M228.7 277.6h1.7M229.0 282.6h1.7M229.2 272.0h1.7M229.4 271.9h1.7M229.7 267.8h1.7M229.9 269.1h1.7M230.1 272.6h1.7M230.4 275.4h1.7M230.6 280.2h1.7M230.8 275.3h1.7M231.1 275.1h1.7M231.3 277.7h1.7M231.5 280.3h1.7M231.8 276.6h1.7M232.0 276.1h1.7M232.2 278.2h1.7M232.5 267.4h1.7M232.7 275.4h1.7M232.9 278.0h1.7M233.1 276.7h1.7M233.4 273.6h1.7M233.6 277.2h1.7M233.8 275.3h1.7M234.1 275.1h1.7M234.3 271.0h1.7M234.5 268.9h1.7M234.8 275.2h1.7M235.0 278.6h1.7M235.2 273.1h1.7M235.5 274.8h1.7M235.7 274.1h1.7M235.9 278.8h1.7M236.2 272.8h1.7M236.4 275.5h1.7M236.6 273.2h1.7M236.8 274.4h1.7M237.1 277.2h1.7M237.3 274.7h1.7M237.5 275.8h1.7M237.8 274.0h1.7M238.0 278.7h1.7M238.2 280.1h1.7M238.5 271.8h1.7M238.7 270.7h1.7M238.9 273.1h1.7M239.2 278.4h1.7M239.4 275.1h1.7M239.6 274.8h1.7M239.9 273.5h1.7M240.1 281.2h1.7M240.3 267.7h1.7M240.6 272.8h1.7M240.8 273.4h1.7M241.0 283.9h1.7M241.2 269.6h1.7M241.5 276.4h1.7M241.7 278.0h1.7M241.9 277.2h1.7M242.2 271.1h1.7M242.4 276.1h1.7M242.6 279.6h1.7M242.9 271.9h1.7M243.1 270.3h1.7M243.3 274.9h1.7M243.6 274.7h1.7M243.8 275.0h1.7M244.0 273.7h1.7M244.3 278.8h1.7M244.5 277.9h1.7M244.7 274.9h1.7M245.0 271.1h1.7M245.2 278.3h1.7M245.4 280.6h1.7M245.7 273.8h1.7M245.9 282.1h1.7M246.1 269.9h1.7M246.3 269.9h1.7M246.6 273.5h1.7M246.8 271.6h1.7M247.0 276.8h1.7M247.3 272.1h1.7M247.5 278.6h1.7M247.7 269.0h1.7M248.0 269.2h1.7M248.2 278.6h1.7M248.4 273.8h1.7M248.7 275.5h1.7M248.9 278.3h1.7M249.1 278.8h1.7M249.4 273.1h1.7M249.6 281.3h1.7M249.8 268.2h1.7M250.1 276.0h1.7M250.3 277.0h1.7M250.5 277.6h1.7M250.7 278.4h1.7M251.0 272.5h1.7M251.2 269.7h1.7M251.4 270.1h1.7M251.7 277.2h1.7M251.9 271.4h1.7M252.1 278.6h1.7M252.4 277.5h1.7M252.6 279.8h1.7M252.8 274.0h1.7M253.1 273.4h1.7M253.3 274.7h1.7M253.5 268.5h1.7M253.8 278.1h1.7M254.0 278.5h1.7M254.2 278.4h1.7M254.5 278.2h1.7M254.7 278.7h1.7M254.9 278.5h1.7M255.1 272.9h1.7M255.4 275.4h1.7M255.6 275.1h1.7M255.8 276.7h1.7M256.1 273.3h1.7M256.3 271.0h1.7M256.5 273.6h1.7M256.8 277.4h1.7M257.0 275.6h1.7M257.2 276.8h1.7M257.5 281.1h1.7M257.7 277.9h1.7M257.9 277.4h1.7M258.2 265.0h1.7M258.4 265.9h1.7M258.6 273.0h1.7M258.8 278.5h1.7M259.1 278.0h1.7M259.3 277.5h1.7M259.5 283.2h1.7M259.8 284.7h1.7M260.0 275.2h1.7M260.2 276.5h1.7M260.5 278.5h1.7M260.7 280.8h1.7M260.9 273.2h1.7M261.2 274.4h1.7M261.4 278.0h1.7M261.6 280.8h1.7M261.9 278.6h1.7M262.1 281.6h1.7M262.3 277.0h1.7M262.6 271.8h1.7M262.8 274.7h1.7M263.0 279.0h1.7M263.2 270.0h1.7M263.5 278.5h1.7M263.7 281.9h1.7M263.9 276.1h1.7M264.2 275.3h1.7M264.4 278.8h1.7M264.6 272.8h1.7M264.9 281.9h1.7M265.1 279.5h1.7M265.3 282.6h1.7M265.6 278.9h1.7M265.8 275.3h1.7M266.0 277.2h1.7M266.3 280.3h1.7M266.5 279.4h1.7M266.7 273.1h1.7M267.0 285.6h1.7M267.2 271.5h1.7M267.4 278.0h1.7M267.6 284.3h1.7M267.9 278.6h1.7M268.1 279.9h1.7M268.3 281.8h1.7M268.6 282.3h1.7M268.8 274.5h1.7M269.0 275.3h1.7M269.3 275.5h1.7M269.5 278.5h1.7M269.7 277.6h1.7M270.0 277.1h1.7M270.2 277.2h1.7M270.4 277.5h1.7M270.7 277.7h1.7M270.9 280.5h1.7M271.1 278.5h1.7M271.4 280.6h1.7M271.6 277.4h1.7M271.8 274.0h1.7M272.0 274.7h1.7M272.3 276.7h1.7M272.5 281.3h1.7M272.7 274.9h1.7M273.0 276.9h1.7M273.2 278.8h1.7M273.4 282.1h1.7M273.7 279.3h1.7M273.9 273.0h1.7M274.1 275.6h1.7M274.4 270.9h1.7M274.6 280.3h1.7M274.8 275.9h1.7M275.1 276.1h1.7M275.3 279.0h1.7M275.5 274.6h1.7M275.8 280.2h1.7M276.0 280.0h1.7M276.2 280.4h1.7M276.4 276.9h1.7M276.7 275.4h1.7M276.9 272.6h1.7M277.1 277.0h1.7M277.4 280.6h1.7M277.6 278.9h1.7M277.8 277.8h1.7M278.1 285.2h1.7M278.3 276.2h1.7M278.5 277.8h1.7M278.8 278.1h1.7M279.0 271.3h1.7M279.2 275.7h1.7M279.5 278.6h1.7M279.7 274.7h1.7M279.9 275.6h1.7M280.2 273.5h1.7M280.4 276.5h1.7M280.6 278.5h1.7M280.8 280.9h1.7M281.1 275.1h1.7M281.3 282.7h1.7M281.5 280.5h1.7M281.8 285.2h1.7M282.0 275.7h1.7M282.2 275.2h1.7M282.5 276.9h1.7M282.7 278.3h1.7M282.9 281.5h1.7M283.2 282.6h1.7M283.4 276.6h1.7M283.6 280.5h1.7M283.9 281.7h1.7M284.1 279.5h1.7M284.3 282.9h1.7M284.6 290.5h1.7M284.8 283.1h1.7M285.0 273.0h1.7M285.2 276.4h1.7M285.5 274.4h1.7M285.7 284.3h1.7M285.9 271.9h1.7M286.2 286.2h1.7M286.4 281.0h1.7M286.6 282.9h1.7M286.9 280.4h1.7M287.1 281.7h1.7M287.3 282.4h1.7M287.6 281.5h1.7M287.8 279.0h1.7M288.0 281.4h1.7M288.3 284.6h1.7M288.5 271.1h1.7M288.7 280.7h1.7M289.0 279.6h1.7M289.2 278.5h1.7M289.4 281.8h1.7M289.6 278.1h1.7M289.9 277.0h1.7M290.1 281.5h1.7M290.3 274.7h1.7M290.6 278.1h1.7M290.8 278.2h1.7M291.0 279.4h1.7M291.3 277.2h1.7M291.5 279.3h1.7M291.7 283.2h1.7M292.0 277.8h1.7M292.2 285.2h1.7M292.4 286.5h1.7M292.7 276.3h1.7M292.9 275.7h1.7M293.1 281.3h1.7M293.4 269.2h1.7M293.6 284.6h1.7M293.8 282.3h1.7M294.0 284.6h1.7M294.3 275.7h1.7M294.5 282.7h1.7M294.7 278.6h1.7M295.0 270.7h1.7M295.2 283.8h1.7M295.4 275.3h1.7M295.7 280.5h1.7M295.9 282.0h1.7M296.1 280.8h1.7M296.4 284.4h1.7M296.6 279.6h1.7M296.8 278.9h1.7M297.1 286.0h1.7M297.3 282.8h1.7M297.5 275.0h1.7M297.8 275.2h1.7M298.0 280.1h1.7M298.2 274.4h1.7M298.4 272.7h1.7M298.7 277.7h1.7M298.9 277.4h1.7M299.1 281.1h1.7M299.4 278.0h1.7M299.6 277.5h1.7M299.8 280.1h1.7M300.1 279.6h1.7M300.3 272.9h1.7M300.5 281.6h1.7" stroke="#898989" stroke-width="1.7" fill="none"/>
<polyline clip-path="url(#c4)" points="81.50,279.33 82.60,279.29 83.70,279.26 84.80,279.23 85.90,279.19 87.00,279.16 88.10,279.12 89.20,279.09 90.30,279.05 91.40,279.01 92.50,278.97 93.60,278.93 94.70,278.89 95.80,278.85 96.90,278.80 98.00,278.76 99.10,278.71 100.20,278.67 101.30,278.62 102.40,278.57 103.50,278.52 104.60,278.47 105.70,278.42 106.80,278.37 107.90,278.32 109.00,278.26 110.10,278.20 111.20,278.15 112.30,278.09 113.40,278.03 114.50,277.96 115.60,277.90 116.70,277.84 117.80,277.77 118.90,277.70 120.00,277.63 121.10,277.56 122.20,277.49 123.30,277.41 124.40,277.34 125.50,277.26 126.60,277.18 127.70,277.10 128.80,277.02 129.90,276.93 131.00,276.84 132.10,276.76 133.20,276.66 134.30,276.57 135.40,276.48 136.50,276.38 137.60,276.28 138.70,276.18 139.80,276.07 140.90,275.96 142.00,275.86 143.10,275.74 144.20,275.63 145.30,275.51 146.40,275.39 147.50,275.27 148.60,275.14 149.70,275.02 150.80,274.89 151.90,274.75 153.00,274.61 154.10,274.47 155.20,274.33 156.30,274.18 157.40,274.03 158.50,273.88 159.60,273.72 160.70,273.56 161.80,273.40 162.90,273.23 164.00,273.06 165.10,272.88 166.20,272.70 167.30,272.51 168.40,272.33 169.50,272.13 170.60,271.94 171.70,271.73 172.80,271.53 173.90,271.32 175.00,271.10 176.10,270.88 177.20,270.65 178.30,270.42 179.40,270.18 180.50,269.94 181.60,269.69 182.70,269.44 183.80,269.18 184.90,268.92 186.00,268.62 186.11,268.59 186.22,268.55 186.33,268.51 186.44,268.47 186.55,268.42 186.66,268.37 186.77,268.31 186.88,268.25 186.99,268.17 187.10,268.09 187.21,267.99 187.32,267.87 187.43,267.74 187.54,267.59 187.65,267.41 187.76,267.20 187.87,266.96 187.98,266.68 188.09,266.36 188.20,266.00 188.31,265.59 188.42,265.12 188.53,264.60 188.64,264.01 188.75,263.35 188.86,262.63 188.97,261.84 189.08,260.98 189.19,260.05 189.30,259.05 189.41,257.98 189.52,256.86 189.63,255.68 189.74,254.46 189.85,253.20 189.96,251.91 190.07,250.62 190.18,249.33 190.29,248.05 190.40,246.82 190.51,245.63 190.62,244.50 190.73,243.47 190.84,242.53 190.95,241.70 191.06,241.00 191.17,240.43 191.28,240.01 191.39,239.75 191.50,239.64 191.61,239.75 191.72,240.01 191.83,240.43 191.94,241.00 192.05,241.70 192.16,242.53 192.27,243.47 192.38,244.50 192.49,245.63 192.60,246.82 192.71,248.05 192.82,249.33 192.93,250.62 193.04,251.91 193.15,253.20 193.26,254.46 193.37,255.68 193.48,256.86 193.59,257.98 193.70,259.05 193.81,260.05 193.92,260.98 194.03,261.84 194.14,262.63 194.25,263.35 194.36,264.01 194.47,264.60 194.58,265.12 194.69,265.59 194.80,266.00 194.91,266.36 195.02,266.68 195.13,266.96 195.24,267.20 195.35,267.41 195.46,267.59 195.57,267.74 195.68,267.87 195.79,267.99 195.90,268.09 196.01,268.17 196.12,268.25 196.23,268.31 196.34,268.37 196.45,268.42 196.56,268.47 196.67,268.51 196.78,268.55 196.89,268.59 197.00,268.62 197.11,268.66 197.22,268.69 197.33,268.72 197.44,268.75 197.55,268.78 197.66,268.81 197.77,268.83 197.88,268.86 197.99,268.89 198.10,268.92 199.20,269.18 200.30,269.44 201.40,269.69 202.50,269.94 203.60,270.18 204.70,270.42 205.80,270.65 206.90,270.88 208.00,271.10 209.10,271.32 210.20,271.53 211.30,271.73 212.40,271.94 213.50,272.13 214.60,272.33 215.70,272.51 216.80,272.70 217.90,272.88 219.00,273.06 220.10,273.23 221.20,273.40 222.30,273.56 223.40,273.72 224.50,273.88 225.60,274.03 226.70,274.18 227.80,274.33 228.90,274.47 230.00,274.61 231.10,274.75 232.20,274.89 233.30,275.02 234.40,275.14 235.50,275.27 236.60,275.39 237.70,275.51 238.80,275.63 239.90,275.74 241.00,275.86 242.10,275.96 243.20,276.07 244.30,276.18 245.40,276.28 246.50,276.38 247.60,276.48 248.70,276.57 249.80,276.66 250.90,276.76 252.00,276.84 253.10,276.93 254.20,277.02 255.30,277.10 256.40,277.18 257.50,277.26 258.60,277.34 259.70,277.41 260.80,277.49 261.90,277.56 263.00,277.63 264.10,277.70 265.20,277.77 266.30,277.84 267.40,277.90 268.50,277.96 269.60,278.03 270.70,278.09 271.80,278.15 272.90,278.20 274.00,278.26 275.10,278.32 276.20,278.37 277.30,278.42 278.40,278.47 279.50,278.52 280.60,278.57 281.70,278.62 282.80,278.67 283.90,278.71 285.00,278.76 286.10,278.80 287.20,278.85 288.30,278.89 289.40,278.93 290.50,278.97 291.60,279.01 292.70,279.05 293.80,279.09 294.90,279.12 296.00,279.16 297.10,279.19 298.20,279.23 299.30,279.26 300.40,279.29 301.50,279.33" stroke="#cc1414" stroke-width="0.95" fill="none" stroke-linejoin="round"/>
<text x="78.7" y="249.72" font-family="Liberation Serif, serif" stroke="#000" stroke-width="0.12" font-size="13.5" text-anchor="end" textLength="16" lengthAdjust="spacingAndGlyphs">0.5</text>
<text x="78.7" y="285.12" font-family="Liberation Serif, serif" stroke="#000" stroke-width="0.12" font-size="13.5" text-anchor="end" textLength="16" lengthAdjust="spacingAndGlyphs">0.0</text>
<text x="93.3" y="255.60" font-family="Liberation Serif, serif" font-size="11" stroke="#000" stroke-width="0.2" textLength="5.6" lengthAdjust="spacingAndGlyphs">T</text>
<text x="98.5" y="258.00" font-family="Liberation Serif, serif" font-size="8.8" stroke="#000" stroke-width="0.15">L</text>
<text x="106" y="255.60" font-family="Liberation Serif, serif" font-size="11" stroke="#000" stroke-width="0.2" textLength="38.0" lengthAdjust="spacingAndGlyphs">= 43.5 ns</text>
<path d="M81.0 21.40H302.0" stroke="#000" stroke-width="1.1"/>
<path d="M81.0 74.63H302.0" stroke="#000" stroke-width="1.1"/>
<path d="M81.0 127.86H302.0" stroke="#000" stroke-width="1.1"/>
<path d="M81.0 181.09H302.0" stroke="#000" stroke-width="1.1"/>
<path d="M81.0 234.32H302.0" stroke="#000" stroke-width="1.1"/>
<path d="M81.0 287.55H302.0" stroke="#000" stroke-width="1.1"/>
<path d="M81.5 21.4V287.54999999999995M301.5 21.4V287.54999999999995" stroke="#000" stroke-width="1.1"/>
<text x="125.5" y="303.1" font-family="Liberation Serif, serif" stroke="#000" stroke-width="0.12" font-size="13.5" text-anchor="middle" textLength="16.6" lengthAdjust="spacingAndGlyphs">-30</text>
<text x="191.5" y="303.1" font-family="Liberation Serif, serif" stroke="#000" stroke-width="0.12" font-size="13.5" text-anchor="middle">0</text>
<text x="257.5" y="303.1" font-family="Liberation Serif, serif" stroke="#000" stroke-width="0.12" font-size="13.5" text-anchor="middle">30</text>
<text x="191.5" y="319.2" font-family="Liberation Serif, serif" stroke="#000" stroke-width="0.12" font-size="13.5" text-anchor="middle" textLength="64.8" lengthAdjust="spacingAndGlyphs">Delay τ (ns)</text>
<text x="269.0" y="39.1" font-family="Liberation Serif, serif" stroke="#000" stroke-width="0.12" font-size="14" text-anchor="middle" textLength="14.6" lengthAdjust="spacingAndGlyphs">(a)</text>
<g transform="translate(46.1,179.7) rotate(-90)"><text x="0" y="0" font-family="Liberation Serif, serif" stroke="#000" stroke-width="0.12" font-size="14.2" textLength="9.3" lengthAdjust="spacingAndGlyphs">V</text><text x="9.5" y="3.2" font-family="Liberation Serif, serif" stroke="#000" stroke-width="0.12" font-size="8.8" textLength="22.2" lengthAdjust="spacingAndGlyphs">HOM</text><text x="35" y="0" font-family="Liberation Serif, serif" stroke="#000" stroke-width="0.12" font-size="13.4">(τ)</text></g>
<rect x="126.9" y="331.9" width="114.4" height="160.40000000000003" fill="#dde8f8"/>
<path d="M77.6 331.4H301.45V491.8" stroke="#404040" stroke-width="1.2" fill="none"/>
<path d="M77.6 330.79999999999995V491.8" stroke="#404040" stroke-width="1.2" fill="none"/>
<path d="M77.6 491.8H127M241 491.8H301.45" stroke="#404040" stroke-width="1.2" fill="none"/>
<path d="M127 491.8H241" stroke="#8a8d93" stroke-width="1.2" fill="none"/>
<path d="M77.6 445.97h8.4M301.45 445.97h-8.4" stroke="#555" stroke-width="1.1"/>
<path d="M77.6 400.14h8.4M301.45 400.14h-8.4" stroke="#555" stroke-width="1.1"/>
<path d="M77.6 354.31h8.4M301.45 354.31h-8.4" stroke="#555" stroke-width="1.1"/>
<text x="73.3" y="496.70" font-family="Liberation Serif, serif" stroke="#000" stroke-width="0.12" font-size="12.5" text-anchor="end">0</text>
<text x="73.3" y="450.87" font-family="Liberation Serif, serif" stroke="#000" stroke-width="0.12" font-size="12.5" text-anchor="end">4</text>
<text x="73.3" y="405.04" font-family="Liberation Serif, serif" stroke="#000" stroke-width="0.12" font-size="12.5" text-anchor="end">8</text>
<text x="73.3" y="359.21" font-family="Liberation Serif, serif" stroke="#000" stroke-width="0.12" font-size="12.5" text-anchor="end">12</text>
<path d="M91.22 491.8v-3.8" stroke="#444" stroke-width="0.9"/>
<path d="M102.74 491.8v-3.8" stroke="#444" stroke-width="0.9"/>
<path d="M112.72 491.8v-3.8" stroke="#444" stroke-width="0.9"/>
<path d="M121.52 491.8v-3.8" stroke="#444" stroke-width="0.9"/>
<path d="M249.66 491.8v-3.8" stroke="#444" stroke-width="0.9"/>
<path d="M263.28 491.8v-3.8" stroke="#444" stroke-width="0.9"/>
<path d="M274.80 491.8v-3.8" stroke="#444" stroke-width="0.9"/>
<path d="M284.78 491.8v-3.8" stroke="#444" stroke-width="0.9"/>
<path d="M293.58 491.8v-3.8" stroke="#444" stroke-width="0.9"/>
<text x="77.30" y="502.7" font-family="Liberation Serif, serif" font-size="7.3" text-anchor="middle" textLength="4.3" lengthAdjust="spacingAndGlyphs" stroke="#000" stroke-width="0.2">5</text>
<text x="90.92" y="502.7" font-family="Liberation Serif, serif" font-size="7.3" text-anchor="middle" textLength="4.3" lengthAdjust="spacingAndGlyphs" stroke="#000" stroke-width="0.2">6</text>
<text x="102.44" y="502.7" font-family="Liberation Serif, serif" font-size="7.3" text-anchor="middle" textLength="4.3" lengthAdjust="spacingAndGlyphs" stroke="#000" stroke-width="0.2">7</text>
<text x="112.42" y="502.7" font-family="Liberation Serif, serif" font-size="7.3" text-anchor="middle" textLength="4.3" lengthAdjust="spacingAndGlyphs" stroke="#000" stroke-width="0.2">8</text>
<text x="121.22" y="502.7" font-family="Liberation Serif, serif" font-size="7.3" text-anchor="middle" textLength="4.3" lengthAdjust="spacingAndGlyphs" stroke="#000" stroke-width="0.2">9</text>
<text x="180.89" y="502.7" font-family="Liberation Serif, serif" font-size="7.3" text-anchor="middle" textLength="4.3" lengthAdjust="spacingAndGlyphs" stroke="#000" stroke-width="0.2">2</text>
<text x="211.19" y="502.7" font-family="Liberation Serif, serif" font-size="7.3" text-anchor="middle" textLength="4.3" lengthAdjust="spacingAndGlyphs" stroke="#000" stroke-width="0.2">3</text>
<text x="232.68" y="502.7" font-family="Liberation Serif, serif" font-size="7.3" text-anchor="middle" textLength="4.3" lengthAdjust="spacingAndGlyphs" stroke="#000" stroke-width="0.2">4</text>
<text x="249.36" y="502.7" font-family="Liberation Serif, serif" font-size="7.3" text-anchor="middle" textLength="4.3" lengthAdjust="spacingAndGlyphs" stroke="#000" stroke-width="0.2">5</text>
<text x="262.98" y="502.7" font-family="Liberation Serif, serif" font-size="7.3" text-anchor="middle" textLength="4.3" lengthAdjust="spacingAndGlyphs" stroke="#000" stroke-width="0.2">6</text>
<text x="274.50" y="502.7" font-family="Liberation Serif, serif" font-size="7.3" text-anchor="middle" textLength="4.3" lengthAdjust="spacingAndGlyphs" stroke="#000" stroke-width="0.2">7</text>
<text x="284.48" y="502.7" font-family="Liberation Serif, serif" font-size="7.3" text-anchor="middle" textLength="4.3" lengthAdjust="spacingAndGlyphs" stroke="#000" stroke-width="0.2">8</text>
<text x="293.28" y="502.7" font-family="Liberation Serif, serif" font-size="7.3" text-anchor="middle" textLength="4.3" lengthAdjust="spacingAndGlyphs" stroke="#000" stroke-width="0.2">9</text>
<text x="129.3" y="514.4" font-family="Liberation Serif, serif" stroke="#000" stroke-width="0.12" font-size="12.7" text-anchor="middle" textLength="11.6" lengthAdjust="spacingAndGlyphs">10</text>
<text x="302.2" y="514.4" font-family="Liberation Serif, serif" stroke="#000" stroke-width="0.12" font-size="12.7" text-anchor="middle" textLength="17.2" lengthAdjust="spacingAndGlyphs">100</text>
<clipPath id="cb"><rect x="77.6" y="330.2" width="224.75" height="160.40000000000003"/></clipPath>
<path clip-path="url(#cb)" d="M77.5 474.48C78.12 474.33 79.99 473.88 81.24 473.59C82.48 473.30 83.72 473.02 84.97 472.74C86.22 472.46 87.46 472.18 88.71 471.91C89.96 471.64 91.20 471.38 92.45 471.12C93.70 470.86 94.94 470.59 96.18 470.33C97.43 470.07 98.67 469.80 99.92 469.54C101.17 469.28 102.41 469.01 103.66 468.75C104.91 468.49 106.14 468.22 107.39 467.95C108.64 467.68 109.88 467.39 111.13 467.11C112.38 466.83 113.62 466.54 114.87 466.25C116.12 465.96 117.35 465.66 118.6 465.35C119.84 465.04 121.09 464.72 122.34 464.4C123.59 464.07 124.83 463.74 126.08 463.4C127.33 463.06 128.56 462.70 129.81 462.34C131.06 461.98 132.30 461.61 133.55 461.22C134.80 460.84 136.04 460.44 137.29 460.03C138.53 459.62 139.78 459.20 141.02 458.76C142.27 458.32 143.51 457.87 144.76 457.41C146.01 456.95 147.25 456.47 148.5 455.98C149.75 455.49 150.98 454.98 152.23 454.46C153.47 453.94 154.72 453.40 155.97 452.85C157.22 452.30 158.47 451.73 159.71 451.15C160.96 450.57 162.19 449.97 163.44 449.35C164.69 448.73 165.93 448.10 167.18 447.45C168.43 446.80 169.67 446.14 170.92 445.46C172.16 444.78 173.41 444.08 174.65 443.36C175.90 442.64 177.14 441.91 178.39 441.16C179.64 440.41 180.88 439.65 182.13 438.87C183.38 438.09 184.62 437.29 185.86 436.47C187.11 435.65 188.35 434.82 189.6 433.97C190.85 433.12 192.09 432.25 193.34 431.37C194.59 430.49 195.82 429.59 197.07 428.67C198.31 427.75 199.56 426.82 200.81 425.87C202.06 424.92 203.31 423.96 204.55 422.98C205.80 422.00 207.03 421.01 208.28 420.0C209.53 418.99 210.77 417.97 212.02 416.93C213.27 415.89 214.51 414.84 215.76 413.78C217.00 412.71 218.25 411.63 219.49 410.54C220.74 409.45 221.98 408.35 223.23 407.23C224.48 406.11 225.72 404.98 226.97 403.84C228.22 402.70 229.45 401.55 230.7 400.39C231.94 399.23 233.19 398.05 234.44 396.87C235.69 395.69 236.94 394.50 238.18 393.3C239.43 392.10 240.66 390.89 241.91 389.68C243.16 388.47 244.40 387.25 245.65 386.02C246.90 384.79 248.14 383.56 249.39 382.32C250.63 381.08 251.88 379.85 253.12 378.6C254.37 377.36 255.61 376.10 256.86 374.85C258.11 373.60 259.36 372.35 260.6 371.1C261.85 369.85 263.08 368.59 264.33 367.34C265.57 366.09 266.82 364.84 268.07 363.59C269.32 362.34 270.56 361.10 271.81 359.86C273.06 358.62 274.30 357.38 275.54 356.15C276.79 354.92 278.03 353.69 279.28 352.48C280.53 351.27 281.77 350.06 283.02 348.86C284.26 347.67 285.50 346.48 286.75 345.31C288.00 344.14 289.24 342.97 290.49 341.82C291.74 340.67 292.99 339.54 294.23 338.42C295.48 337.30 296.68 336.35 297.96 335.11C299.24 333.87 301.24 331.69 301.9 331.0" stroke="#cc0a0a" stroke-width="2.1" fill="none"/>
<path d="M115.8 463.2H138.1M128.2 458.7V467.8" stroke="#808080" stroke-width="1.75" fill="none"/>
<path d="M116.2 461.3v3.8M137.7 461.3v3.8M126.29999999999998 459.09999999999997h3.8M126.29999999999998 467.40000000000003h3.8" stroke="#808080" stroke-width="1.5" fill="none"/>
<circle cx="128.2" cy="463.2" r="2.2" fill="#808080"/>
<path d="M133.3 458.4H152.5M142.9 454.5V462.5" stroke="#808080" stroke-width="1.75" fill="none"/>
<path d="M133.70000000000002 456.5v3.8M152.1 456.5v3.8M141.0 454.9h3.8M141.0 462.1h3.8" stroke="#808080" stroke-width="1.5" fill="none"/>
<circle cx="142.9" cy="458.4" r="2.2" fill="#808080"/>
<path d="M167.5 444.3H180.6M174.2 439.6V449.0" stroke="#808080" stroke-width="1.75" fill="none"/>
<path d="M167.9 442.40000000000003v3.8M180.2 442.40000000000003v3.8M172.29999999999998 440.0h3.8M172.29999999999998 448.6h3.8" stroke="#808080" stroke-width="1.5" fill="none"/>
<circle cx="174.2" cy="444.3" r="2.2" fill="#808080"/>
<path d="M191.3 429.7H213.0M202.6 425.2V434.2" stroke="#808080" stroke-width="1.75" fill="none"/>
<path d="M191.70000000000002 427.8v3.8M212.6 427.8v3.8M200.7 425.59999999999997h3.8M200.7 433.8h3.8" stroke="#808080" stroke-width="1.5" fill="none"/>
<circle cx="202.6" cy="429.7" r="2.2" fill="#808080"/>
<path d="M224.7 406.85H252.7M240.0 402.4V411.5" stroke="#808080" stroke-width="1.75" fill="none"/>
<path d="M225.1 404.95000000000005v3.8M252.29999999999998 404.95000000000005v3.8M238.1 402.79999999999995h3.8M238.1 411.1h3.8" stroke="#808080" stroke-width="1.5" fill="none"/>
<circle cx="240.0" cy="406.85" r="2.2" fill="#808080"/>
<text x="260.0" y="346.6" font-family="Liberation Serif, serif" stroke="#000" stroke-width="0.12" font-size="13.4" text-anchor="middle" textLength="15.0" lengthAdjust="spacingAndGlyphs">(b)</text>
<g transform="translate(42.0,413) rotate(-90)"><text x="0" y="0" font-family="Liberation Serif, serif" stroke="#000" stroke-width="0.12" font-size="14" text-anchor="middle" textLength="68.3" lengthAdjust="spacingAndGlyphs">Coalescence</text></g>
<g transform="translate(58.2,411) rotate(-90)"><text x="0" y="0" font-family="Liberation Serif, serif" stroke="#000" stroke-width="0.12" font-size="14" text-anchor="middle" textLength="98.7" lengthAdjust="spacingAndGlyphs">time window (ns)</text></g>
<text x="118.0" y="529.3" font-family="Liberation Serif, serif" stroke="#000" stroke-width="0.12" font-size="11.8" textLength="105.2" lengthAdjust="spacingAndGlyphs">Laser coherence time</text>
<text x="226.9" y="529.3" font-family="Liberation Serif, serif" stroke="#000" stroke-width="0.12" font-size="11.8">T</text>
<text x="233.8" y="531.9" font-family="Liberation Serif, serif" stroke="#000" stroke-width="0.12" font-size="9">L</text>
<text x="242.6" y="529.3" font-family="Liberation Serif, serif" stroke="#000" stroke-width="0.12" font-size="11.8" textLength="17.8" lengthAdjust="spacingAndGlyphs">(ns)</text>
</svg>
</body></html>
